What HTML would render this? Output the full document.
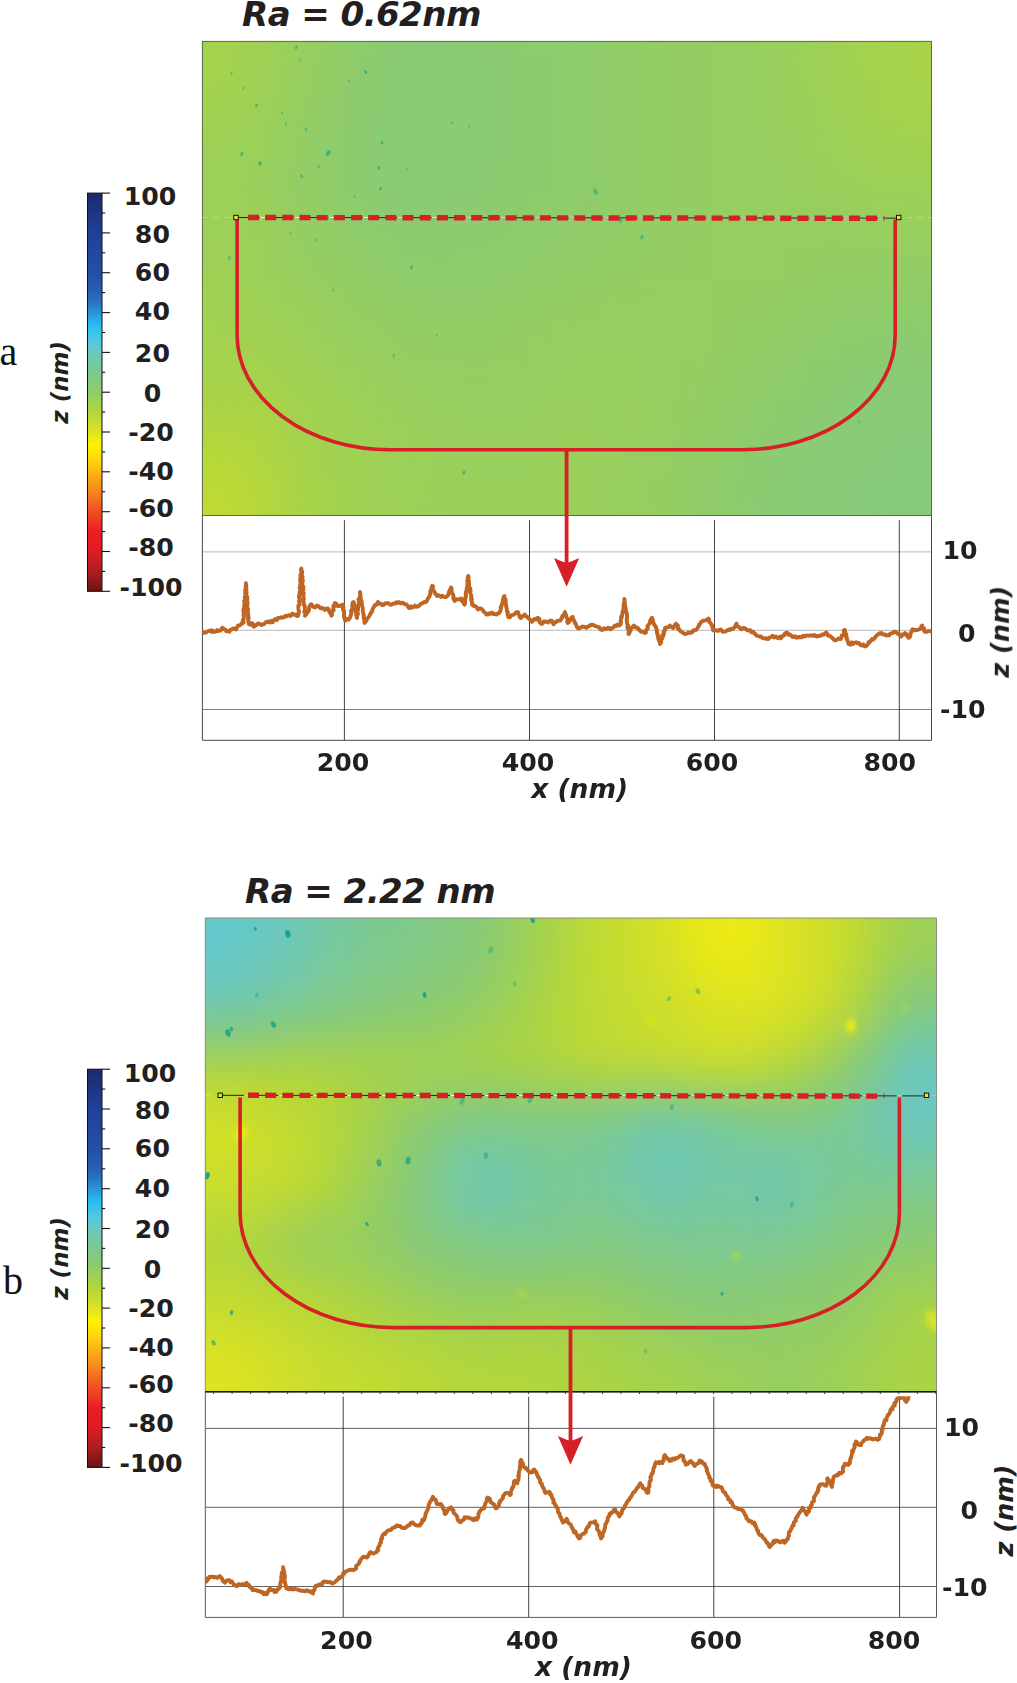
<!DOCTYPE html>
<html lang="en"><head><meta charset="utf-8"><title>AFM roughness profiles</title>
<style>html,body{margin:0;padding:0;background:#fff}svg{display:block}.t{font-family:'DejaVu Sans','Liberation Sans',sans-serif;font-weight:bold;font-size:25.2px;fill:#231f20}.ti{font-family:'DejaVu Sans','Liberation Sans',sans-serif;font-weight:bold;font-style:italic;font-size:23px;fill:#231f20}.tx{font-family:'DejaVu Sans','Liberation Sans',sans-serif;font-weight:bold;font-style:italic;font-size:26.5px;fill:#231f20}.tz{font-family:'DejaVu Sans','Liberation Sans',sans-serif;font-weight:bold;font-style:italic;font-size:25.6px;fill:#231f20}.ra{font-family:'DejaVu Sans','Liberation Sans',sans-serif;font-weight:bold;font-style:italic;font-size:34px;letter-spacing:-0.55px;fill:#231f20}.s{font-family:'Liberation Serif','DejaVu Serif',serif;font-size:40px;fill:#111}</style></head><body>
<svg width="1017" height="1683" viewBox="0 0 1017 1683">
<defs>
<linearGradient id="cb" x1="0" y1="0" x2="0" y2="1">
<stop offset="0" stop-color="#1b2a6b"/>
<stop offset="0.05" stop-color="#1e3585"/>
<stop offset="0.1" stop-color="#20409a"/>
<stop offset="0.2" stop-color="#2450a6"/>
<stop offset="0.24" stop-color="#275cb0"/>
<stop offset="0.27" stop-color="#2a70be"/>
<stop offset="0.3" stop-color="#2b93d6"/>
<stop offset="0.33" stop-color="#27bdf0"/>
<stop offset="0.37" stop-color="#52c8e4"/>
<stop offset="0.4" stop-color="#6ac8c0"/>
<stop offset="0.45" stop-color="#7cc990"/>
<stop offset="0.5" stop-color="#90cc68"/>
<stop offset="0.55" stop-color="#b2d63c"/>
<stop offset="0.6" stop-color="#dde322"/>
<stop offset="0.632" stop-color="#fff200"/>
<stop offset="0.67" stop-color="#fed70e"/>
<stop offset="0.7" stop-color="#fdb515"/>
<stop offset="0.75" stop-color="#f6861f"/>
<stop offset="0.8" stop-color="#f04e23"/>
<stop offset="0.85" stop-color="#ed1c24"/>
<stop offset="0.9" stop-color="#e01b23"/>
<stop offset="0.95" stop-color="#ad1d22"/>
<stop offset="1.0" stop-color="#6b1315"/>
</linearGradient>
<filter id="bla" filterUnits="userSpaceOnUse" x="100" y="-60" width="940" height="680"><feGaussianBlur stdDeviation="22"/></filter>
<filter id="blb" filterUnits="userSpaceOnUse" x="100" y="810" width="940" height="690"><feGaussianBlur stdDeviation="15"/></filter>
<filter id="bl2" x="-50%" y="-50%" width="200%" height="200%"><feGaussianBlur stdDeviation="0.7"/></filter>
<filter id="bl3" x="-50%" y="-50%" width="200%" height="200%"><feGaussianBlur stdDeviation="3"/></filter>
<clipPath id="ca"><rect x="202.4" y="41.4" width="729.1" height="474.1"/></clipPath>
<clipPath id="cbb"><rect x="205.3" y="918" width="731.2" height="474"/></clipPath>
<clipPath id="pa"><rect x="202.4" y="515.5" width="729.1" height="224.8"/></clipPath>
<clipPath id="pb"><rect x="205.3" y="1396.2" width="731.2" height="221.2"/></clipPath>
</defs>
<rect width="1017" height="1683" fill="#fff"/>
<g id="panel-a">
<text x="242" y="26" class="ra">Ra = 0.62nm</text>
<text x="-0.5" y="365.3" class="s">a</text>
<rect x="87.5" y="193.1" width="14.5" height="398.2" fill="url(#cb)" stroke="#111" stroke-width="1"/>
<line x1="102" y1="193.1" x2="110" y2="193.1" stroke="#111" stroke-width="1.1"/>
<line x1="102" y1="213" x2="105.2" y2="213" stroke="#111" stroke-width="1.1"/>
<line x1="102" y1="232.9" x2="110" y2="232.9" stroke="#111" stroke-width="1.1"/>
<line x1="102" y1="252.8" x2="105.2" y2="252.8" stroke="#111" stroke-width="1.1"/>
<line x1="102" y1="272.7" x2="110" y2="272.7" stroke="#111" stroke-width="1.1"/>
<line x1="102" y1="292.6" x2="105.2" y2="292.6" stroke="#111" stroke-width="1.1"/>
<line x1="102" y1="312.6" x2="110" y2="312.6" stroke="#111" stroke-width="1.1"/>
<line x1="102" y1="332.5" x2="105.2" y2="332.5" stroke="#111" stroke-width="1.1"/>
<line x1="102" y1="352.4" x2="110" y2="352.4" stroke="#111" stroke-width="1.1"/>
<line x1="102" y1="372.3" x2="105.2" y2="372.3" stroke="#111" stroke-width="1.1"/>
<line x1="102" y1="392.2" x2="110" y2="392.2" stroke="#111" stroke-width="1.1"/>
<line x1="102" y1="412.1" x2="105.2" y2="412.1" stroke="#111" stroke-width="1.1"/>
<line x1="102" y1="432" x2="110" y2="432" stroke="#111" stroke-width="1.1"/>
<line x1="102" y1="451.9" x2="105.2" y2="451.9" stroke="#111" stroke-width="1.1"/>
<line x1="102" y1="471.8" x2="110" y2="471.8" stroke="#111" stroke-width="1.1"/>
<line x1="102" y1="491.8" x2="105.2" y2="491.8" stroke="#111" stroke-width="1.1"/>
<line x1="102" y1="511.7" x2="110" y2="511.7" stroke="#111" stroke-width="1.1"/>
<line x1="102" y1="531.6" x2="105.2" y2="531.6" stroke="#111" stroke-width="1.1"/>
<line x1="102" y1="551.5" x2="110" y2="551.5" stroke="#111" stroke-width="1.1"/>
<line x1="102" y1="571.4" x2="105.2" y2="571.4" stroke="#111" stroke-width="1.1"/>
<line x1="102" y1="591.3" x2="110" y2="591.3" stroke="#111" stroke-width="1.1"/>
<text x="150" y="205.4" text-anchor="middle" class="t">100</text>
<text x="152.4" y="243" text-anchor="middle" class="t">80</text>
<text x="152.4" y="281.3" text-anchor="middle" class="t">60</text>
<text x="152.4" y="320.4" text-anchor="middle" class="t">40</text>
<text x="152.4" y="361.9" text-anchor="middle" class="t">20</text>
<text x="152.4" y="401.6" text-anchor="middle" class="t">0</text>
<text x="151" y="441.2" text-anchor="middle" class="t">-20</text>
<text x="151" y="479.5" text-anchor="middle" class="t">-40</text>
<text x="151" y="517" text-anchor="middle" class="t">-60</text>
<text x="151" y="555.8" text-anchor="middle" class="t">-80</text>
<text x="151" y="596.2" text-anchor="middle" class="t">-100</text>
<text transform="translate(67.6,382.3) rotate(-90)" text-anchor="middle" class="ti">z (nm)</text>
<g clip-path="url(#ca)"><rect x="202.4" y="41.4" width="729.1" height="474.1" fill="#9ed061"/>
<g filter="url(#bla)"><rect x="165.4" y="1.4" width="37.5" height="40.5" fill="#a4d24e"/>
<rect x="201.9" y="1.4" width="37.5" height="40.5" fill="#a4d24e"/>
<rect x="238.4" y="1.4" width="37.5" height="40.5" fill="#a1d152"/>
<rect x="274.8" y="1.4" width="37.5" height="40.5" fill="#9acf5b"/>
<rect x="311.3" y="1.4" width="37.5" height="40.5" fill="#93cd65"/>
<rect x="347.7" y="1.4" width="37.5" height="40.5" fill="#8ccb6f"/>
<rect x="384.2" y="1.4" width="37.5" height="40.5" fill="#8acb74"/>
<rect x="420.6" y="1.4" width="37.5" height="40.5" fill="#8acb74"/>
<rect x="457.1" y="1.4" width="37.5" height="40.5" fill="#8acb73"/>
<rect x="493.5" y="1.4" width="37.5" height="40.5" fill="#8ccb71"/>
<rect x="530" y="1.4" width="37.5" height="40.5" fill="#8dcc6e"/>
<rect x="566.4" y="1.4" width="37.5" height="40.5" fill="#8fcc6a"/>
<rect x="602.9" y="1.4" width="37.5" height="40.5" fill="#91cc67"/>
<rect x="639.4" y="1.4" width="37.5" height="40.5" fill="#93cd65"/>
<rect x="675.8" y="1.4" width="37.5" height="40.5" fill="#94cd63"/>
<rect x="712.3" y="1.4" width="37.5" height="40.5" fill="#96ce60"/>
<rect x="748.7" y="1.4" width="37.5" height="40.5" fill="#98ce5d"/>
<rect x="785.2" y="1.4" width="37.5" height="40.5" fill="#9cd059"/>
<rect x="821.6" y="1.4" width="37.5" height="40.5" fill="#a0d153"/>
<rect x="858.1" y="1.4" width="37.5" height="40.5" fill="#a5d24d"/>
<rect x="894.5" y="1.4" width="37.5" height="40.5" fill="#a8d349"/>
<rect x="931" y="1.4" width="37.5" height="40.5" fill="#a8d349"/>
<rect x="165.4" y="40.9" width="37.5" height="40.5" fill="#a4d24e"/>
<rect x="201.9" y="40.9" width="37.5" height="40.5" fill="#a4d24e"/>
<rect x="238.4" y="40.9" width="37.5" height="40.5" fill="#a1d152"/>
<rect x="274.8" y="40.9" width="37.5" height="40.5" fill="#9acf5b"/>
<rect x="311.3" y="40.9" width="37.5" height="40.5" fill="#93cd65"/>
<rect x="347.7" y="40.9" width="37.5" height="40.5" fill="#8ccb6f"/>
<rect x="384.2" y="40.9" width="37.5" height="40.5" fill="#8acb74"/>
<rect x="420.6" y="40.9" width="37.5" height="40.5" fill="#8acb74"/>
<rect x="457.1" y="40.9" width="37.5" height="40.5" fill="#8acb73"/>
<rect x="493.5" y="40.9" width="37.5" height="40.5" fill="#8ccb71"/>
<rect x="530" y="40.9" width="37.5" height="40.5" fill="#8dcc6e"/>
<rect x="566.4" y="40.9" width="37.5" height="40.5" fill="#8fcc6a"/>
<rect x="602.9" y="40.9" width="37.5" height="40.5" fill="#91cc67"/>
<rect x="639.4" y="40.9" width="37.5" height="40.5" fill="#93cd65"/>
<rect x="675.8" y="40.9" width="37.5" height="40.5" fill="#94cd63"/>
<rect x="712.3" y="40.9" width="37.5" height="40.5" fill="#96ce60"/>
<rect x="748.7" y="40.9" width="37.5" height="40.5" fill="#98ce5d"/>
<rect x="785.2" y="40.9" width="37.5" height="40.5" fill="#9cd059"/>
<rect x="821.6" y="40.9" width="37.5" height="40.5" fill="#a0d153"/>
<rect x="858.1" y="40.9" width="37.5" height="40.5" fill="#a5d24d"/>
<rect x="894.5" y="40.9" width="37.5" height="40.5" fill="#a8d349"/>
<rect x="931" y="40.9" width="37.5" height="40.5" fill="#a8d349"/>
<rect x="165.4" y="80.4" width="37.5" height="40.5" fill="#a3d250"/>
<rect x="201.9" y="80.4" width="37.5" height="40.5" fill="#a3d250"/>
<rect x="238.4" y="80.4" width="37.5" height="40.5" fill="#9fd054"/>
<rect x="274.8" y="80.4" width="37.5" height="40.5" fill="#98ce5d"/>
<rect x="311.3" y="80.4" width="37.5" height="40.5" fill="#91cc66"/>
<rect x="347.7" y="80.4" width="37.5" height="40.5" fill="#8ccb70"/>
<rect x="384.2" y="80.4" width="37.5" height="40.5" fill="#8acb74"/>
<rect x="420.6" y="80.4" width="37.5" height="40.5" fill="#8acb74"/>
<rect x="457.1" y="80.4" width="37.5" height="40.5" fill="#8acb73"/>
<rect x="493.5" y="80.4" width="37.5" height="40.5" fill="#8ccb71"/>
<rect x="530" y="80.4" width="37.5" height="40.5" fill="#8dcc6e"/>
<rect x="566.4" y="80.4" width="37.5" height="40.5" fill="#8fcc6a"/>
<rect x="602.9" y="80.4" width="37.5" height="40.5" fill="#91cc67"/>
<rect x="639.4" y="80.4" width="37.5" height="40.5" fill="#93cd65"/>
<rect x="675.8" y="80.4" width="37.5" height="40.5" fill="#94cd63"/>
<rect x="712.3" y="80.4" width="37.5" height="40.5" fill="#96ce60"/>
<rect x="748.7" y="80.4" width="37.5" height="40.5" fill="#98ce5d"/>
<rect x="785.2" y="80.4" width="37.5" height="40.5" fill="#9bcf59"/>
<rect x="821.6" y="80.4" width="37.5" height="40.5" fill="#9fd054"/>
<rect x="858.1" y="80.4" width="37.5" height="40.5" fill="#a4d24e"/>
<rect x="894.5" y="80.4" width="37.5" height="40.5" fill="#a6d24b"/>
<rect x="931" y="80.4" width="37.5" height="40.5" fill="#a6d24b"/>
<rect x="165.4" y="119.9" width="37.5" height="40.5" fill="#9fd054"/>
<rect x="201.9" y="119.9" width="37.5" height="40.5" fill="#9fd054"/>
<rect x="238.4" y="119.9" width="37.5" height="40.5" fill="#9cd059"/>
<rect x="274.8" y="119.9" width="37.5" height="40.5" fill="#95ce61"/>
<rect x="311.3" y="119.9" width="37.5" height="40.5" fill="#8fcc6a"/>
<rect x="347.7" y="119.9" width="37.5" height="40.5" fill="#8ccb70"/>
<rect x="384.2" y="119.9" width="37.5" height="40.5" fill="#8acb74"/>
<rect x="420.6" y="119.9" width="37.5" height="40.5" fill="#8acb74"/>
<rect x="457.1" y="119.9" width="37.5" height="40.5" fill="#8acb73"/>
<rect x="493.5" y="119.9" width="37.5" height="40.5" fill="#8ccb71"/>
<rect x="530" y="119.9" width="37.5" height="40.5" fill="#8dcc6e"/>
<rect x="566.4" y="119.9" width="37.5" height="40.5" fill="#8fcc6a"/>
<rect x="602.9" y="119.9" width="37.5" height="40.5" fill="#91cc67"/>
<rect x="639.4" y="119.9" width="37.5" height="40.5" fill="#93cd65"/>
<rect x="675.8" y="119.9" width="37.5" height="40.5" fill="#94cd63"/>
<rect x="712.3" y="119.9" width="37.5" height="40.5" fill="#96ce60"/>
<rect x="748.7" y="119.9" width="37.5" height="40.5" fill="#98ce5e"/>
<rect x="785.2" y="119.9" width="37.5" height="40.5" fill="#9acf5b"/>
<rect x="821.6" y="119.9" width="37.5" height="40.5" fill="#9dd057"/>
<rect x="858.1" y="119.9" width="37.5" height="40.5" fill="#a1d152"/>
<rect x="894.5" y="119.9" width="37.5" height="40.5" fill="#a3d250"/>
<rect x="931" y="119.9" width="37.5" height="40.5" fill="#a3d250"/>
<rect x="165.4" y="159.4" width="37.5" height="40.5" fill="#9ed056"/>
<rect x="201.9" y="159.4" width="37.5" height="40.5" fill="#9ed056"/>
<rect x="238.4" y="159.4" width="37.5" height="40.5" fill="#9acf5b"/>
<rect x="274.8" y="159.4" width="37.5" height="40.5" fill="#94cd63"/>
<rect x="311.3" y="159.4" width="37.5" height="40.5" fill="#8fcc6a"/>
<rect x="347.7" y="159.4" width="37.5" height="40.5" fill="#8ccb70"/>
<rect x="384.2" y="159.4" width="37.5" height="40.5" fill="#8acb73"/>
<rect x="420.6" y="159.4" width="37.5" height="40.5" fill="#8acb73"/>
<rect x="457.1" y="159.4" width="37.5" height="40.5" fill="#8bcb72"/>
<rect x="493.5" y="159.4" width="37.5" height="40.5" fill="#8ccb70"/>
<rect x="530" y="159.4" width="37.5" height="40.5" fill="#8dcc6d"/>
<rect x="566.4" y="159.4" width="37.5" height="40.5" fill="#8fcc6a"/>
<rect x="602.9" y="159.4" width="37.5" height="40.5" fill="#91cc67"/>
<rect x="639.4" y="159.4" width="37.5" height="40.5" fill="#93cd65"/>
<rect x="675.8" y="159.4" width="37.5" height="40.5" fill="#94cd63"/>
<rect x="712.3" y="159.4" width="37.5" height="40.5" fill="#96ce60"/>
<rect x="748.7" y="159.4" width="37.5" height="40.5" fill="#97ce5e"/>
<rect x="785.2" y="159.4" width="37.5" height="40.5" fill="#99cf5d"/>
<rect x="821.6" y="159.4" width="37.5" height="40.5" fill="#9bcf5a"/>
<rect x="858.1" y="159.4" width="37.5" height="40.5" fill="#9dd057"/>
<rect x="894.5" y="159.4" width="37.5" height="40.5" fill="#9ed055"/>
<rect x="931" y="159.4" width="37.5" height="40.5" fill="#9ed055"/>
<rect x="165.4" y="198.9" width="37.5" height="40.5" fill="#9ed056"/>
<rect x="201.9" y="198.9" width="37.5" height="40.5" fill="#9ed056"/>
<rect x="238.4" y="198.9" width="37.5" height="40.5" fill="#9bcf5a"/>
<rect x="274.8" y="198.9" width="37.5" height="40.5" fill="#95ce61"/>
<rect x="311.3" y="198.9" width="37.5" height="40.5" fill="#90cc68"/>
<rect x="347.7" y="198.9" width="37.5" height="40.5" fill="#8dcc6e"/>
<rect x="384.2" y="198.9" width="37.5" height="40.5" fill="#8ccb71"/>
<rect x="420.6" y="198.9" width="37.5" height="40.5" fill="#8ccb71"/>
<rect x="457.1" y="198.9" width="37.5" height="40.5" fill="#8ccb70"/>
<rect x="493.5" y="198.9" width="37.5" height="40.5" fill="#8dcc6e"/>
<rect x="530" y="198.9" width="37.5" height="40.5" fill="#8ecc6c"/>
<rect x="566.4" y="198.9" width="37.5" height="40.5" fill="#8fcc69"/>
<rect x="602.9" y="198.9" width="37.5" height="40.5" fill="#91cc67"/>
<rect x="639.4" y="198.9" width="37.5" height="40.5" fill="#93cd65"/>
<rect x="675.8" y="198.9" width="37.5" height="40.5" fill="#94cd63"/>
<rect x="712.3" y="198.9" width="37.5" height="40.5" fill="#96ce60"/>
<rect x="748.7" y="198.9" width="37.5" height="40.5" fill="#97ce5f"/>
<rect x="785.2" y="198.9" width="37.5" height="40.5" fill="#97ce5e"/>
<rect x="821.6" y="198.9" width="37.5" height="40.5" fill="#98ce5e"/>
<rect x="858.1" y="198.9" width="37.5" height="40.5" fill="#99cf5c"/>
<rect x="894.5" y="198.9" width="37.5" height="40.5" fill="#99cf5c"/>
<rect x="931" y="198.9" width="37.5" height="40.5" fill="#99cf5c"/>
<rect x="165.4" y="238.4" width="37.5" height="40.5" fill="#9ed055"/>
<rect x="201.9" y="238.4" width="37.5" height="40.5" fill="#9ed055"/>
<rect x="238.4" y="238.4" width="37.5" height="40.5" fill="#9cd058"/>
<rect x="274.8" y="238.4" width="37.5" height="40.5" fill="#97ce5e"/>
<rect x="311.3" y="238.4" width="37.5" height="40.5" fill="#93cd64"/>
<rect x="347.7" y="238.4" width="37.5" height="40.5" fill="#8fcc6a"/>
<rect x="384.2" y="238.4" width="37.5" height="40.5" fill="#8dcc6d"/>
<rect x="420.6" y="238.4" width="37.5" height="40.5" fill="#8dcc6e"/>
<rect x="457.1" y="238.4" width="37.5" height="40.5" fill="#8ecc6d"/>
<rect x="493.5" y="238.4" width="37.5" height="40.5" fill="#8ecc6b"/>
<rect x="530" y="238.4" width="37.5" height="40.5" fill="#90cc69"/>
<rect x="566.4" y="238.4" width="37.5" height="40.5" fill="#91cc67"/>
<rect x="602.9" y="238.4" width="37.5" height="40.5" fill="#92cd65"/>
<rect x="639.4" y="238.4" width="37.5" height="40.5" fill="#94cd63"/>
<rect x="675.8" y="238.4" width="37.5" height="40.5" fill="#95cd62"/>
<rect x="712.3" y="238.4" width="37.5" height="40.5" fill="#96ce61"/>
<rect x="748.7" y="238.4" width="37.5" height="40.5" fill="#96ce61"/>
<rect x="785.2" y="238.4" width="37.5" height="40.5" fill="#95ce61"/>
<rect x="821.6" y="238.4" width="37.5" height="40.5" fill="#95cd62"/>
<rect x="858.1" y="238.4" width="37.5" height="40.5" fill="#94cd62"/>
<rect x="894.5" y="238.4" width="37.5" height="40.5" fill="#94cd63"/>
<rect x="931" y="238.4" width="37.5" height="40.5" fill="#94cd63"/>
<rect x="165.4" y="277.9" width="37.5" height="40.5" fill="#a0d153"/>
<rect x="201.9" y="277.9" width="37.5" height="40.5" fill="#a0d153"/>
<rect x="238.4" y="277.9" width="37.5" height="40.5" fill="#9ed056"/>
<rect x="274.8" y="277.9" width="37.5" height="40.5" fill="#9acf5b"/>
<rect x="311.3" y="277.9" width="37.5" height="40.5" fill="#97ce5f"/>
<rect x="347.7" y="277.9" width="37.5" height="40.5" fill="#93cd64"/>
<rect x="384.2" y="277.9" width="37.5" height="40.5" fill="#90cc68"/>
<rect x="420.6" y="277.9" width="37.5" height="40.5" fill="#8fcc69"/>
<rect x="457.1" y="277.9" width="37.5" height="40.5" fill="#90cc69"/>
<rect x="493.5" y="277.9" width="37.5" height="40.5" fill="#91cc67"/>
<rect x="530" y="277.9" width="37.5" height="40.5" fill="#93cd65"/>
<rect x="566.4" y="277.9" width="37.5" height="40.5" fill="#94cd63"/>
<rect x="602.9" y="277.9" width="37.5" height="40.5" fill="#95ce61"/>
<rect x="639.4" y="277.9" width="37.5" height="40.5" fill="#96ce61"/>
<rect x="675.8" y="277.9" width="37.5" height="40.5" fill="#96ce61"/>
<rect x="712.3" y="277.9" width="37.5" height="40.5" fill="#95cd62"/>
<rect x="748.7" y="277.9" width="37.5" height="40.5" fill="#94cd63"/>
<rect x="785.2" y="277.9" width="37.5" height="40.5" fill="#92cd65"/>
<rect x="821.6" y="277.9" width="37.5" height="40.5" fill="#91cc67"/>
<rect x="858.1" y="277.9" width="37.5" height="40.5" fill="#90cc68"/>
<rect x="894.5" y="277.9" width="37.5" height="40.5" fill="#90cc69"/>
<rect x="931" y="277.9" width="37.5" height="40.5" fill="#90cc69"/>
<rect x="165.4" y="317.5" width="37.5" height="40.5" fill="#a3d250"/>
<rect x="201.9" y="317.5" width="37.5" height="40.5" fill="#a3d250"/>
<rect x="238.4" y="317.5" width="37.5" height="40.5" fill="#a1d152"/>
<rect x="274.8" y="317.5" width="37.5" height="40.5" fill="#9ed056"/>
<rect x="311.3" y="317.5" width="37.5" height="40.5" fill="#9acf5b"/>
<rect x="347.7" y="317.5" width="37.5" height="40.5" fill="#97ce5f"/>
<rect x="384.2" y="317.5" width="37.5" height="40.5" fill="#94cd63"/>
<rect x="420.6" y="317.5" width="37.5" height="40.5" fill="#93cd65"/>
<rect x="457.1" y="317.5" width="37.5" height="40.5" fill="#92cd65"/>
<rect x="493.5" y="317.5" width="37.5" height="40.5" fill="#94cd63"/>
<rect x="530" y="317.5" width="37.5" height="40.5" fill="#95ce61"/>
<rect x="566.4" y="317.5" width="37.5" height="40.5" fill="#97ce5f"/>
<rect x="602.9" y="317.5" width="37.5" height="40.5" fill="#97ce5e"/>
<rect x="639.4" y="317.5" width="37.5" height="40.5" fill="#97ce5f"/>
<rect x="675.8" y="317.5" width="37.5" height="40.5" fill="#96ce61"/>
<rect x="712.3" y="317.5" width="37.5" height="40.5" fill="#94cd63"/>
<rect x="748.7" y="317.5" width="37.5" height="40.5" fill="#91cc66"/>
<rect x="785.2" y="317.5" width="37.5" height="40.5" fill="#90cc69"/>
<rect x="821.6" y="317.5" width="37.5" height="40.5" fill="#8ecc6b"/>
<rect x="858.1" y="317.5" width="37.5" height="40.5" fill="#8dcc6e"/>
<rect x="894.5" y="317.5" width="37.5" height="40.5" fill="#8ccb6f"/>
<rect x="931" y="317.5" width="37.5" height="40.5" fill="#8ccb6f"/>
<rect x="165.4" y="357" width="37.5" height="40.5" fill="#a6d24b"/>
<rect x="201.9" y="357" width="37.5" height="40.5" fill="#a6d24b"/>
<rect x="238.4" y="357" width="37.5" height="40.5" fill="#a4d24e"/>
<rect x="274.8" y="357" width="37.5" height="40.5" fill="#a1d152"/>
<rect x="311.3" y="357" width="37.5" height="40.5" fill="#9ed056"/>
<rect x="347.7" y="357" width="37.5" height="40.5" fill="#9acf5b"/>
<rect x="384.2" y="357" width="37.5" height="40.5" fill="#98ce5e"/>
<rect x="420.6" y="357" width="37.5" height="40.5" fill="#96ce60"/>
<rect x="457.1" y="357" width="37.5" height="40.5" fill="#95ce61"/>
<rect x="493.5" y="357" width="37.5" height="40.5" fill="#96ce61"/>
<rect x="530" y="357" width="37.5" height="40.5" fill="#97ce5f"/>
<rect x="566.4" y="357" width="37.5" height="40.5" fill="#98ce5d"/>
<rect x="602.9" y="357" width="37.5" height="40.5" fill="#99cf5d"/>
<rect x="639.4" y="357" width="37.5" height="40.5" fill="#97ce5e"/>
<rect x="675.8" y="357" width="37.5" height="40.5" fill="#95ce61"/>
<rect x="712.3" y="357" width="37.5" height="40.5" fill="#92cd65"/>
<rect x="748.7" y="357" width="37.5" height="40.5" fill="#90cc69"/>
<rect x="785.2" y="357" width="37.5" height="40.5" fill="#8ecc6c"/>
<rect x="821.6" y="357" width="37.5" height="40.5" fill="#8ccb70"/>
<rect x="858.1" y="357" width="37.5" height="40.5" fill="#8acb73"/>
<rect x="894.5" y="357" width="37.5" height="40.5" fill="#8acb75"/>
<rect x="931" y="357" width="37.5" height="40.5" fill="#8acb75"/>
<rect x="165.4" y="396.5" width="37.5" height="40.5" fill="#add443"/>
<rect x="201.9" y="396.5" width="37.5" height="40.5" fill="#add443"/>
<rect x="238.4" y="396.5" width="37.5" height="40.5" fill="#aad446"/>
<rect x="274.8" y="396.5" width="37.5" height="40.5" fill="#a5d24d"/>
<rect x="311.3" y="396.5" width="37.5" height="40.5" fill="#a0d153"/>
<rect x="347.7" y="396.5" width="37.5" height="40.5" fill="#9dd057"/>
<rect x="384.2" y="396.5" width="37.5" height="40.5" fill="#9acf5b"/>
<rect x="420.6" y="396.5" width="37.5" height="40.5" fill="#98ce5d"/>
<rect x="457.1" y="396.5" width="37.5" height="40.5" fill="#98ce5e"/>
<rect x="493.5" y="396.5" width="37.5" height="40.5" fill="#98ce5e"/>
<rect x="530" y="396.5" width="37.5" height="40.5" fill="#98ce5d"/>
<rect x="566.4" y="396.5" width="37.5" height="40.5" fill="#9acf5c"/>
<rect x="602.9" y="396.5" width="37.5" height="40.5" fill="#99cf5c"/>
<rect x="639.4" y="396.5" width="37.5" height="40.5" fill="#97ce5f"/>
<rect x="675.8" y="396.5" width="37.5" height="40.5" fill="#94cd63"/>
<rect x="712.3" y="396.5" width="37.5" height="40.5" fill="#90cc68"/>
<rect x="748.7" y="396.5" width="37.5" height="40.5" fill="#8ecc6c"/>
<rect x="785.2" y="396.5" width="37.5" height="40.5" fill="#8ccb70"/>
<rect x="821.6" y="396.5" width="37.5" height="40.5" fill="#8acb74"/>
<rect x="858.1" y="396.5" width="37.5" height="40.5" fill="#88cb77"/>
<rect x="894.5" y="396.5" width="37.5" height="40.5" fill="#88cb79"/>
<rect x="931" y="396.5" width="37.5" height="40.5" fill="#88cb79"/>
<rect x="165.4" y="436" width="37.5" height="40.5" fill="#b8d838"/>
<rect x="201.9" y="436" width="37.5" height="40.5" fill="#b8d838"/>
<rect x="238.4" y="436" width="37.5" height="40.5" fill="#b2d63c"/>
<rect x="274.8" y="436" width="37.5" height="40.5" fill="#a8d348"/>
<rect x="311.3" y="436" width="37.5" height="40.5" fill="#a2d151"/>
<rect x="347.7" y="436" width="37.5" height="40.5" fill="#9ed055"/>
<rect x="384.2" y="436" width="37.5" height="40.5" fill="#9cd059"/>
<rect x="420.6" y="436" width="37.5" height="40.5" fill="#9acf5b"/>
<rect x="457.1" y="436" width="37.5" height="40.5" fill="#99cf5c"/>
<rect x="493.5" y="436" width="37.5" height="40.5" fill="#99cf5c"/>
<rect x="530" y="436" width="37.5" height="40.5" fill="#9acf5c"/>
<rect x="566.4" y="436" width="37.5" height="40.5" fill="#9acf5b"/>
<rect x="602.9" y="436" width="37.5" height="40.5" fill="#99cf5d"/>
<rect x="639.4" y="436" width="37.5" height="40.5" fill="#96ce61"/>
<rect x="675.8" y="436" width="37.5" height="40.5" fill="#92cd66"/>
<rect x="712.3" y="436" width="37.5" height="40.5" fill="#8ecc6b"/>
<rect x="748.7" y="436" width="37.5" height="40.5" fill="#8ccb70"/>
<rect x="785.2" y="436" width="37.5" height="40.5" fill="#8acb74"/>
<rect x="821.6" y="436" width="37.5" height="40.5" fill="#88cb77"/>
<rect x="858.1" y="436" width="37.5" height="40.5" fill="#87cb7a"/>
<rect x="894.5" y="436" width="37.5" height="40.5" fill="#86cb7b"/>
<rect x="931" y="436" width="37.5" height="40.5" fill="#86cb7b"/>
<rect x="165.4" y="475.5" width="37.5" height="40.5" fill="#bfda34"/>
<rect x="201.9" y="475.5" width="37.5" height="40.5" fill="#bfda34"/>
<rect x="238.4" y="475.5" width="37.5" height="40.5" fill="#b7d839"/>
<rect x="274.8" y="475.5" width="37.5" height="40.5" fill="#aad446"/>
<rect x="311.3" y="475.5" width="37.5" height="40.5" fill="#a3d250"/>
<rect x="347.7" y="475.5" width="37.5" height="40.5" fill="#9fd054"/>
<rect x="384.2" y="475.5" width="37.5" height="40.5" fill="#9dd057"/>
<rect x="420.6" y="475.5" width="37.5" height="40.5" fill="#9bcf5a"/>
<rect x="457.1" y="475.5" width="37.5" height="40.5" fill="#9acf5b"/>
<rect x="493.5" y="475.5" width="37.5" height="40.5" fill="#9acf5b"/>
<rect x="530" y="475.5" width="37.5" height="40.5" fill="#9acf5b"/>
<rect x="566.4" y="475.5" width="37.5" height="40.5" fill="#9acf5b"/>
<rect x="602.9" y="475.5" width="37.5" height="40.5" fill="#98ce5d"/>
<rect x="639.4" y="475.5" width="37.5" height="40.5" fill="#95ce61"/>
<rect x="675.8" y="475.5" width="37.5" height="40.5" fill="#91cc67"/>
<rect x="712.3" y="475.5" width="37.5" height="40.5" fill="#8ecc6d"/>
<rect x="748.7" y="475.5" width="37.5" height="40.5" fill="#8bcb72"/>
<rect x="785.2" y="475.5" width="37.5" height="40.5" fill="#89cb76"/>
<rect x="821.6" y="475.5" width="37.5" height="40.5" fill="#88cb79"/>
<rect x="858.1" y="475.5" width="37.5" height="40.5" fill="#86cb7b"/>
<rect x="894.5" y="475.5" width="37.5" height="40.5" fill="#86ca7c"/>
<rect x="931" y="475.5" width="37.5" height="40.5" fill="#86ca7c"/>
<rect x="165.4" y="515" width="37.5" height="40.5" fill="#bfda34"/>
<rect x="201.9" y="515" width="37.5" height="40.5" fill="#bfda34"/>
<rect x="238.4" y="515" width="37.5" height="40.5" fill="#b7d839"/>
<rect x="274.8" y="515" width="37.5" height="40.5" fill="#aad446"/>
<rect x="311.3" y="515" width="37.5" height="40.5" fill="#a3d250"/>
<rect x="347.7" y="515" width="37.5" height="40.5" fill="#9fd054"/>
<rect x="384.2" y="515" width="37.5" height="40.5" fill="#9dd057"/>
<rect x="420.6" y="515" width="37.5" height="40.5" fill="#9bcf5a"/>
<rect x="457.1" y="515" width="37.5" height="40.5" fill="#9acf5b"/>
<rect x="493.5" y="515" width="37.5" height="40.5" fill="#9acf5b"/>
<rect x="530" y="515" width="37.5" height="40.5" fill="#9acf5b"/>
<rect x="566.4" y="515" width="37.5" height="40.5" fill="#9acf5b"/>
<rect x="602.9" y="515" width="37.5" height="40.5" fill="#98ce5d"/>
<rect x="639.4" y="515" width="37.5" height="40.5" fill="#95ce61"/>
<rect x="675.8" y="515" width="37.5" height="40.5" fill="#91cc67"/>
<rect x="712.3" y="515" width="37.5" height="40.5" fill="#8ecc6d"/>
<rect x="748.7" y="515" width="37.5" height="40.5" fill="#8bcb72"/>
<rect x="785.2" y="515" width="37.5" height="40.5" fill="#89cb76"/>
<rect x="821.6" y="515" width="37.5" height="40.5" fill="#88cb79"/>
<rect x="858.1" y="515" width="37.5" height="40.5" fill="#86cb7b"/>
<rect x="894.5" y="515" width="37.5" height="40.5" fill="#86ca7c"/>
<rect x="931" y="515" width="37.5" height="40.5" fill="#86ca7c"/></g>
<g filter="url(#bl2)"><ellipse cx="296.4" cy="47.5" rx="1.3" ry="2" fill="#1fa88a" opacity="0.6" transform="rotate(27 296.4 47.5)"/>
<ellipse cx="365.7" cy="72" rx="1.4" ry="2.1" fill="#1fa88a" opacity="0.7" transform="rotate(-15 365.7 72)"/>
<ellipse cx="231.5" cy="73.5" rx="1.1" ry="1.7" fill="#1fa88a" opacity="0.5" transform="rotate(11 231.5 73.5)"/>
<ellipse cx="243.3" cy="88.2" rx="1" ry="1.6" fill="#1fa88a" opacity="0.5" transform="rotate(17 243.3 88.2)"/>
<ellipse cx="256.6" cy="105.3" rx="1.4" ry="2.1" fill="#1fa88a" opacity="0.6" transform="rotate(-18 256.6 105.3)"/>
<ellipse cx="282.2" cy="112.7" rx="1.1" ry="1.7" fill="#1fa88a" opacity="0.5" transform="rotate(3 282.2 112.7)"/>
<ellipse cx="286" cy="123.6" rx="1.1" ry="1.7" fill="#1fa88a" opacity="0.5" transform="rotate(2 286 123.6)"/>
<ellipse cx="305.8" cy="129.5" rx="1.4" ry="2.2" fill="#1fa88a" opacity="0.5" transform="rotate(-21 305.8 129.5)"/>
<ellipse cx="349" cy="80.8" rx="1" ry="1.6" fill="#1fa88a" opacity="0.5" transform="rotate(15 349 80.8)"/>
<ellipse cx="382" cy="142.8" rx="1.3" ry="2" fill="#1fa88a" opacity="0.7" transform="rotate(12 382 142.8)"/>
<ellipse cx="328.3" cy="153.1" rx="2" ry="3.1" fill="#1fa88a" opacity="0.7" transform="rotate(27 328.3 153.1)"/>
<ellipse cx="241.8" cy="154" rx="1.4" ry="2.2" fill="#1fa88a" opacity="0.7" transform="rotate(24 241.8 154)"/>
<ellipse cx="260.1" cy="163.4" rx="1.5" ry="2.3" fill="#1fa88a" opacity="0.8" transform="rotate(0 260.1 163.4)"/>
<ellipse cx="301.7" cy="176.1" rx="1.3" ry="2" fill="#1fa88a" opacity="0.6" transform="rotate(-30 301.7 176.1)"/>
<ellipse cx="318.5" cy="166.4" rx="1.1" ry="1.7" fill="#1fa88a" opacity="0.5" transform="rotate(-2 318.5 166.4)"/>
<ellipse cx="379" cy="167.9" rx="1.4" ry="2.2" fill="#1fa88a" opacity="0.6" transform="rotate(6 379 167.9)"/>
<ellipse cx="380.5" cy="188.5" rx="1.4" ry="2.1" fill="#1fa88a" opacity="0.6" transform="rotate(19 380.5 188.5)"/>
<ellipse cx="354.5" cy="196.5" rx="1.1" ry="1.7" fill="#1fa88a" opacity="0.5" transform="rotate(-19 354.5 196.5)"/>
<ellipse cx="229.4" cy="257.8" rx="1.3" ry="2" fill="#1fa88a" opacity="0.6" transform="rotate(9 229.4 257.8)"/>
<ellipse cx="411.5" cy="267.6" rx="1.3" ry="2" fill="#1fa88a" opacity="0.7" transform="rotate(-7 411.5 267.6)"/>
<ellipse cx="315.6" cy="240" rx="1.1" ry="1.7" fill="#1fa88a" opacity="0.4" transform="rotate(19 315.6 240)"/>
<ellipse cx="290.5" cy="232.8" rx="1.1" ry="1.7" fill="#1fa88a" opacity="0.4" transform="rotate(1 290.5 232.8)"/>
<ellipse cx="407" cy="169.3" rx="1" ry="1.6" fill="#1fa88a" opacity="0.4" transform="rotate(26 407 169.3)"/>
<ellipse cx="469" cy="126.6" rx="1" ry="1.6" fill="#1fa88a" opacity="0.4" transform="rotate(-28 469 126.6)"/>
<ellipse cx="595.5" cy="191.8" rx="2" ry="3.1" fill="#1fa88a" opacity="0.6" transform="rotate(-27 595.5 191.8)"/>
<ellipse cx="620.6" cy="220.5" rx="1.7" ry="2.6" fill="#1fa88a" opacity="0.6" transform="rotate(-5 620.6 220.5)"/>
<ellipse cx="642" cy="237" rx="1.7" ry="2.6" fill="#1fa88a" opacity="0.5" transform="rotate(15 642 237)"/>
<ellipse cx="464" cy="472.5" rx="1.5" ry="2.3" fill="#1fa88a" opacity="0.6" transform="rotate(15 464 472.5)"/>
<ellipse cx="393.7" cy="355.5" rx="1.2" ry="1.8" fill="#1fa88a" opacity="0.5" transform="rotate(12 393.7 355.5)"/>
<ellipse cx="436.8" cy="335.4" rx="1.1" ry="1.7" fill="#1fa88a" opacity="0.4" transform="rotate(13 436.8 335.4)"/>
<ellipse cx="333.4" cy="290.1" rx="1.2" ry="1.8" fill="#1fa88a" opacity="0.4" transform="rotate(-6 333.4 290.1)"/>
<ellipse cx="859" cy="421.5" rx="1.4" ry="2.1" fill="#1fa88a" opacity="0.3" transform="rotate(-13 859 421.5)"/>
<ellipse cx="300" cy="60" rx="1" ry="1.6" fill="#1fa88a" opacity="0.4" transform="rotate(-30 300 60)"/>
<ellipse cx="452" cy="123" rx="1" ry="1.6" fill="#1fa88a" opacity="0.4" transform="rotate(23 452 123)"/></g>
</g>
<rect x="202.4" y="515.5" width="729.1" height="224.8" fill="#fff"/>
<line x1="202.4" y1="551.9" x2="931.5" y2="551.9" stroke="#c6c6c6" stroke-width="1.2"/>
<line x1="202.4" y1="630.4" x2="931.5" y2="630.4" stroke="#c6c6c6" stroke-width="1.2"/>
<line x1="202.4" y1="709.5" x2="931.5" y2="709.5" stroke="#747474" stroke-width="0.9"/>
<line x1="344.4" y1="520.2" x2="344.4" y2="740.3" stroke="#2e2e2e" stroke-width="0.9"/>
<line x1="529.5" y1="520.2" x2="529.5" y2="740.3" stroke="#2e2e2e" stroke-width="0.9"/>
<line x1="714.5" y1="520.2" x2="714.5" y2="740.3" stroke="#2e2e2e" stroke-width="0.9"/>
<line x1="899.3" y1="520.2" x2="899.3" y2="740.3" stroke="#2e2e2e" stroke-width="0.9"/>
<path d="M202.4 515.5 L202.4 740.3 L931.5 740.3 L931.5 515.5" fill="none" stroke="#4a4a4a" stroke-width="1"/>
<polyline points="202.4,631.7 203.8,632.9 206,632.5 207.6,631.3 208.7,631.1 210,630.5 211.5,631.7 212.2,630.4 214,632 215.8,631.4 217.1,630.1 218.1,631.3 219.6,630.4 220.4,630.6 222.3,627.7 223,628 223.5,629.1 225.5,629.7 226,631 227.4,631.2 229.4,631.7 230.1,630 231.7,629.6 233,628.5 234.2,628.4 236,629.5 236.7,628.1 237.9,625.7 239.2,625.5 240.9,624.8 241.9,623.1 243,623 243.7,622.5 242.8,620 243.5,619.5 243.9,617.5 243.9,616.8 243.4,615.2 244.1,614.5 243.8,612.6 243.3,610.5 244.3,609.5 243.7,608.5 244.4,607.5 244.1,605.6 244.4,605.1 244.5,602.9 244.5,600.7 244.1,600.9 245.3,599.3 244.7,597 244.9,597.6 245.3,595.2 245.5,593.2 245.2,593.5 245.4,591.1 245.2,589.9 246,587.4 245.9,587.9 246.2,586.4 246.2,584.6 245.9,583.2 246.1,584.4 245.6,586.7 246.3,586.5 246.3,588.5 246.2,589.5 246.5,591.4 246.7,592.4 246.2,593.2 246.4,595.3 247.3,597.1 247.3,598.5 246.8,599.9 247.4,599.5 246.7,600.6 247.7,602.5 247.1,604.7 247.4,604.7 247.3,607.1 247.4,607.9 248.1,609.6 247.8,611 247.6,612.1 248.1,613 247.9,615.9 248.4,615.7 248.6,618.4 248,617.9 248.3,620.8 248.4,622.1 249.1,623.1 249,624.3 250.2,624.7 252,623 253,624.3 253,625.9 254,626.8 255.2,625.9 256.5,624.9 258,623.5 258.8,623.4 261.2,625 262,624.5 263.1,624.5 264.4,623.8 266,622 267.6,622 268.4,621.2 270,622.5 271.7,620.8 272.8,622.3 273.7,620.6 275.2,619 277,620 278,618 279.9,617.9 281.2,617.3 283,617.5 283.9,617.4 285.4,615.8 286.3,616.4 288,615.5 289.1,615.2 290.4,615.9 292.4,613.6 293.3,614.5 294.6,614.5 297.1,616 298.2,615.7 298.1,613.7 298.6,613.9 299,611.4 299,610.9 298.6,610.3 298.4,608.4 298.3,605.8 299.4,604.6 299.3,604.1 299.5,602.3 299,600.8 299.7,600.2 299.9,599.5 299,597.5 299.1,595 299.1,595.6 300,594.2 299.6,592.4 300.2,590.5 300.1,588.8 299.6,587.6 300.6,587 300.7,585.4 300.1,584.9 300.8,581.8 300.7,580.7 300.2,581.2 300.2,578.4 301.3,577.5 300.4,575.6 300.7,575.6 300.6,574.7 301,573.5 301.7,570.6 301,569.8 301.4,568.5 301,570.2 301.1,570 302.3,572 301.9,573.6 301.7,574.1 302.5,577.4 302.6,576.8 301.9,579.3 302.9,580.4 302.6,582 302.2,583 302.4,583.7 302.2,585 303.4,586.7 303.1,588.5 303.5,589.2 302.9,590.4 303,592.9 303.8,593 303.2,594.8 303.6,596.3 303.3,596.2 303.4,597.7 303.9,599 303.4,601.6 303.8,603.3 304.1,604.7 303.8,605.2 304.6,605.5 304.9,607.1 304.8,610.3 305,610 304.2,611.8 305.3,612.6 305.4,613.6 305,615.7 306.3,613.4 306.5,614.2 307.5,612 308.3,611.7 308.9,610.1 309.2,607.6 309.4,606.3 310.2,606.2 310.5,604.6 311.3,604.3 313.3,606.8 313.9,606.9 315,607.5 316.4,606.4 317,605.5 317.9,606 318.7,606.1 320,608 321.4,608.3 322.6,608 323.6,608.7 325,610 326.1,608.7 328,608.5 328.9,609.5 329,611.2 329.4,611 330.3,613.3 331,614.4 331.4,615.7 332,615 331.8,613.1 332.5,611.3 332.7,610.8 333.7,610.3 333.3,608.4 333.4,605.8 334.3,606.4 334.2,604.9 335,603 336.4,603.6 337.2,605.8 338,606 339.4,606 341.3,605.3 342.5,604.6 343.2,606.8 343.5,607.4 342.9,608 343.1,610.1 344,610.2 344.2,613.1 344,614 344,615.8 344.1,617.7 345.3,618.2 344.9,620.2 345.4,620.6 347.4,618.9 348.7,619.7 349.8,618 350.3,617.1 350.4,616.3 351.3,613.7 351.4,612.5 351,610.9 351.2,610.9 352.5,607.8 352.4,607.1 352.1,605.5 352.6,605.2 352.6,602.6 353.5,602 353.7,602.2 354.2,604.9 354.8,605.3 354.4,607.4 354.7,608.9 355,610.4 355.9,612 356.4,612.8 356.1,614.8 356.7,615.5 356.6,616.2 357,618 356.7,617.4 356.9,616 357.5,615.2 357.9,613.9 357.3,611.5 358,609.8 358.1,608.6 358.2,606.5 358.3,606.2 358.3,604.8 359,604.1 358.8,602.7 358.8,600.4 358.5,599.3 359.4,599.4 359.8,597.2 360.1,595.8 360.1,594.4 360.1,594.4 360,592 360,592.5 360.5,594.7 360.4,594.7 360.6,597 360.8,599.3 361.2,600.3 361.8,601.6 361.5,602.9 361.9,604 362.1,604.7 362.3,606.5 362.8,608.1 362.9,609.4 363,610.3 362.7,610.8 363.3,613.5 363.3,613.2 363.8,615.2 363.6,615.5 363.8,618.4 363.9,618.8 364.4,619.3 364.4,622.7 364.6,623 365.6,621.6 366.5,620.8 366.7,618.7 368.3,617.6 368.2,617.7 369.5,615.7 370.1,614.2 370.7,613.8 371,612.4 372.2,611.5 372.3,609.8 372.9,608.5 373.4,607.8 374.4,605.9 375.7,604.5 375.9,605 377.3,603.8 378,602 378.8,603.9 380.8,603.6 382,605 383.3,605.1 385,603.3 386,603.5 387.5,603 389.3,603.9 390.7,604.8 391.6,604.6 393.4,603.5 395,603.5 396.4,602.2 397.3,603 399,602 400.1,603 401.2,603.3 403,602.7 404,603.5 404.7,604.2 406.4,604.4 407.2,605.2 408.9,608 410,608 410.9,606.3 412.7,607.5 414.3,606.4 415,605.5 416.3,606.8 418,606.5 418.9,605.9 420.2,604.3 422,603.5 423.3,602.7 424.3,601.9 426,602 427.1,600.7 427.6,598.8 428.5,597.9 429,597 429.5,596.6 430.3,593.2 430.5,593.7 430.3,591.2 431,591.1 431.1,589.6 431.9,586.6 432,586 433,586.1 432.6,588.8 433,589.3 433.6,590.7 434.5,592 435.7,594.3 435.6,593.7 437,596 438.7,595.3 439.4,595.8 441,597 442.1,595.7 444.4,597.1 446,597 447.4,596 448.1,594.5 448.6,594.6 449.1,591.7 449,592.1 450.1,589.5 450.6,588.8 451,587.4 451.4,587.7 451.6,589.9 451.8,592.4 452.4,593.2 453.1,594.8 453.5,596.1 453.3,598 453.6,599.2 454.7,600.4 454.7,601 455.8,599.3 458,599.5 459.9,598.9 461,598.5 461.6,600.8 461.9,601 463.1,601.3 463.8,603.9 464.6,604.6 465.2,602.2 465,601 465.4,599.7 464.7,599.1 465.7,597.6 465.2,597.5 466.1,596.3 465.7,594 465.8,593 466.1,591.2 466.8,591.3 466.7,588 467,587.5 467.5,586.8 467.5,585.5 467.3,584.6 467.8,581.9 467.2,580.8 467.8,578.9 467.8,578.7 467.6,577.9 468.3,575.9 468.6,576.8 468.4,578.2 468.6,580.4 469,581.2 468.7,583.4 469.1,583.3 469,586.1 469.6,587.3 470.3,588.7 470.3,589.9 470.6,590.9 469.9,591.6 470.6,594 471,594.6 471.1,595.1 471.5,597.1 471,598 471.9,599.5 471.1,599.9 471.9,602.1 472.3,602.6 472,604.6 473.4,605.8 475,606 475.5,606.2 477.1,607.8 478,609.5 479,608.5 481,608.5 482.2,609.7 482.5,609.9 484,612 485.7,613.2 486.3,614.5 488,614.5 488.8,613.5 491.1,613.7 492,612.5 493.3,614.1 495,614 496.4,614.6 498.1,613.3 499,613.2 499.6,612 500.3,611.2 500.5,610 501.2,607.3 500.7,607.2 501.8,605.3 501.9,603.7 502.8,603.3 502.8,600.2 503.6,599.9 503.2,598.2 504.2,596.2 504.4,596 504.2,596.9 505.3,599.2 505.7,600 505.5,601.4 505.6,602.7 506.2,604.9 506,605.5 506.1,606 506.6,608 506.9,610.2 506.7,610.8 507.9,612.3 507.6,612.8 507.7,615.4 508.5,616.1 508.3,617 510,617.3 511.2,615.4 512,615 513.3,614.9 514.6,614.1 516,612.4 517.4,612 518.1,612.3 518.7,614.2 519,614.8 520,617.6 521,618 522.4,616.3 524.1,615.1 524.8,614.5 525.9,616.2 527.2,616.7 528,618 529.3,618.9 530.2,619.9 531.5,621.3 532,621.8 532.7,620.1 534.9,619.5 534.9,618.8 536.6,619.6 537.8,617.7 538.3,619.4 539.4,619.1 539.7,622.4 540.3,622.5 540.8,623.6 542,623.9 544.1,621.3 545,621.5 546.6,621.8 548,622.5 549.5,621 550.3,620.7 551.8,620.6 552.4,622.5 553.4,623.7 553.6,624.3 554.9,622.3 555.7,622.5 557,621 558.5,620.8 560.4,620.6 561.5,618.5 562.1,617.2 562.2,617.8 562.6,615.7 563.5,615.3 564.8,612.7 564.9,612 565.3,614.3 565.7,614.1 566.3,615.8 566.3,616.4 567.3,619.2 567.6,621.3 567.2,621.7 567.8,623 568.7,622.4 570.2,620 570.5,619.9 571.6,617.3 572.7,617 572.9,618.4 573.9,620.5 574.4,620.9 574.5,621.7 575.2,623.6 575.7,623.7 576.4,625.5 576.9,627 577.6,628 578.7,628.5 580.8,627.4 582,627 582.9,626.5 585,627.2 586.5,627.8 587.5,626.8 588.8,626.3 590.4,625 591.7,624.9 593.6,625 594.6,625.8 596.8,626.5 598,627 599.5,627.4 600.3,629.2 602,630 603.7,629.4 603.9,628.1 605.5,629.1 607,628.5 608.2,627.7 610.5,629.3 612,628 613.2,627.6 614.7,625.6 616,626 617.4,624.6 618.8,625.5 620.7,624.3 621.1,621.9 620.6,622.2 620.8,619.9 621.2,617.9 621.1,616.8 621.8,617.3 622.2,614.4 622.5,613.1 622.5,611.9 623.2,610.6 623.2,610 623.4,608.6 623.7,606.8 623.6,605.9 623.7,604.5 623.9,602.8 624.5,602 624.3,599.3 624.4,599 624.6,599.5 624.4,601.4 624.9,602.3 624.8,604.3 625.2,605.3 624.9,606.5 625.7,608.2 625.8,610.2 626.1,611.1 625.5,611.5 626.4,612.5 626.8,613.7 627,615.2 627.1,617.9 626.7,619.3 626.6,620.5 627,620.9 626.9,622.6 627.2,624 628,625.2 627.3,627.3 628.5,627.8 628,629 628.8,630 628.8,631.6 628.5,633.7 628.8,634 629.4,633 629.8,631.5 630.5,630.8 631.2,628.1 632.1,627.1 633.3,626.4 634,625.5 635.2,627.6 637,627.5 638.5,628.8 639.3,630.2 640,630.4 641,631.8 642.2,631.8 643.6,631.6 645,633 645.9,632.7 645.9,631.3 646.5,629.5 647.9,628.5 647.4,626.5 648.3,624.9 649.4,623.9 649.8,623.1 650.2,620.5 650.9,621.2 650.9,619.3 651.9,617.7 652.4,618.6 653.2,621.4 652.9,622.5 653.8,623.6 654.1,624.6 654.5,625 656,627.1 656,628 656.7,629.2 656.6,630.6 657.3,632.5 657,633.2 657.7,634.8 658.5,636.8 657.9,637 658.2,637.6 658.5,639.3 659.6,641.7 660,642.2 660,644 660,643.8 661.2,642.4 660.7,639.8 661.8,639.2 662.6,637.4 662.4,634.9 663.3,635.8 663.8,633.7 663.6,631.4 664.5,631.7 665.1,628.6 665,628 666.3,627.4 667.4,627.4 669.3,626.6 670,625.5 671.2,626.8 672.2,627.3 673,628 673.5,627.5 674.1,626.1 675.1,624.8 676,623.6 676.9,624.9 678,625.7 677.7,628.7 678.7,628.5 679.7,630.4 680.9,631.5 682.9,632.7 683.5,633.2 685,634 686.6,633.7 688.2,632.6 690,633 691.1,632.1 692.1,632.4 693.4,630.2 694.8,630.4 695.9,630.1 697.3,628.4 698,627 699.1,625.6 699.2,624.4 700.2,623.4 701.2,622 702,621.8 703.1,620.6 705,620.5 706.4,620.2 708.4,618.6 709,619.2 709.4,622.1 710.1,622.7 710.5,623.1 711.3,624.2 712,625.4 712.5,627.5 713,629.3 713.3,630.4 714.4,630.7 715.9,630.2 718,631 719.4,629.8 721,629.5 722.3,631.4 723,631.7 724.3,631.7 725.6,631.4 727.3,630.3 729,629.5 729.8,629.9 731.2,628.7 732.5,629.1 734,628 735,626.8 736,624.5 736.6,623.6 737,625.6 738.2,626.8 739.9,627.6 740.3,628.5 741.4,629.3 743.6,627.9 745,628.5 745.9,628.9 747.1,630.2 749,630.4 750,630 750.9,631.9 751.7,632.3 752.9,631.6 753.8,632.9 755.6,634.2 756.3,635.4 757.8,636 759.2,636.5 761,636.5 762.5,638 763.5,638.3 765.3,638.6 765.9,638 767.3,639 768.1,639.1 769.3,637.8 771,637 772.6,635.8 774,637.5 776,636.6 777.7,638.1 779.7,636.8 780.9,638.3 782.1,636.2 782.8,636 784.4,635.3 784.5,634 785.8,632.9 787.2,632.7 788.4,634.8 790,634.5 791.9,635.8 792.2,636.8 794,637.2 795.1,636.3 796.8,637.8 798.5,636.9 798.8,637 801.1,637.4 801.6,637.3 803,635.8 804.7,636.5 806,635.4 807.7,635.6 809.1,635.7 810,635.5 812,635.5 813,635.8 814.4,634.9 816.3,636.5 817.7,635.8 818.9,636.2 820.9,635.6 822,634.5 823.3,634.9 825.2,633.3 826.3,632.4 827.1,633.8 828.2,635.7 830,636 830.8,636.6 832.1,638 833.1,638.5 834.2,640.2 835,640.3 836.4,640 838.4,638.5 839.1,638.9 841,639 841.2,638.6 841.7,635.5 842.4,635.2 843.5,635 844.1,632.8 843.7,630.3 844.8,630 845.3,632 845.2,633.6 845.9,634 846.3,634.1 846.1,637.4 846.6,636.7 846.9,639.4 847.2,639.5 847.6,641.4 848.4,642.3 848.5,644 850.5,644.8 851.9,642.4 852.9,644 854.6,642.7 856.4,642.3 857.2,643.3 858.9,643 860,644.5 861.2,645.5 863.3,644.4 864.4,646.3 865.7,646.4 867.2,645.1 868.4,643.5 868.5,642.2 870,642 871.2,640.1 871.9,639.1 872.8,639.8 874.2,638.7 875.5,636.6 877,635.2 878.4,634 879.7,633.3 880.1,633.8 881.6,632.9 882.7,634.3 885,634.5 885.9,635.5 887.1,635.2 889,635.4 889.9,634 891.5,633.3 892.6,633 894,631.7 895,631.7 896.9,632.8 898,634 899.6,634.7 900.2,634.6 901.3,636.6 902,634.5 903.9,634.6 905,633 906.4,634 907.1,635 907.3,636.4 908.7,637.8 909.5,637.3 910.3,636.1 910.4,634.2 910.8,632.8 911.6,631.8 912.3,630.3 912.4,629.2 914.2,630.4 916,630 918.1,629.7 919.7,629.2 920.6,628.7 921.5,626.2 922.2,625.5 922.5,627 922.7,627.9 924.2,628.6 924.1,630.9 924.7,631.7 926.8,631.8 928,631 929.9,631.1 931.5,631.7" fill="none" stroke="#bf6624" stroke-width="3.9" stroke-linejoin="round" stroke-linecap="round" clip-path="url(#pa)"/>
<rect x="202.4" y="41.4" width="729.1" height="474.1" fill="none" stroke="#5a6a4a" stroke-width="1"/>
<line x1="202.4" y1="217.5" x2="931.5" y2="217.5" stroke="#d8ecc0" stroke-width="0.8" stroke-dasharray="6 5" opacity="0.55"/>
<line x1="236" y1="217.5" x2="898.7" y2="218.1" stroke="#222" stroke-width="1"/>
<line x1="236" y1="217.5" x2="898.7" y2="218.1" stroke="#fff" stroke-width="1" stroke-dasharray="5.5 28.84" stroke-dashoffset="-24"/>
<line x1="248" y1="217.5" x2="877.8" y2="218.3" stroke="#d71f27" stroke-width="5.4" stroke-dasharray="11 6.17"/>
<line x1="883.3" y1="218.3" x2="884.3" y2="218.3" stroke="#d71f27" stroke-width="5"/>
<path d="M237.1 219.5 L237.1 335.3 A153 114.5 0 0 0 390.1 449.8 L742.2 449.8 A153 114.5 0 0 0 895.2 335.3 L895.2 219.5" fill="none" stroke="#d71f27" stroke-width="3.6"/>
<line x1="566.6" y1="449.8" x2="566.6" y2="564.7" stroke="#d71f27" stroke-width="3.8"/>
<path d="M566.6 586.7 L554 558 Q562.6 562.2 566.6 562.7 Q570.6 562.2 579.2 558 Z" fill="#d71f27"/>
<rect x="233.8" y="215.3" width="4.4" height="4.4" fill="#f5e616" stroke="#111" stroke-width="1"/>
<rect x="896.5" y="215.3" width="4.4" height="4.4" fill="#f5e616" stroke="#111" stroke-width="1"/>
<text x="343" y="771.3" text-anchor="middle" class="t">200</text>
<text x="528" y="771.3" text-anchor="middle" class="t">400</text>
<text x="712" y="771.3" text-anchor="middle" class="t">600</text>
<text x="889.7" y="771.3" text-anchor="middle" class="t">800</text>
<text x="579.7" y="798" text-anchor="middle" class="tx">x (nm)</text>
<text x="977.5" y="558.7" text-anchor="end" class="t">10</text>
<text x="975.5" y="641.5" text-anchor="end" class="t">0</text>
<text x="985.5" y="717.8" text-anchor="end" class="t">-10</text>
<text transform="translate(1008.8,631.7) rotate(-90)" text-anchor="middle" class="tz">z (nm)</text>
</g>
<g id="panel-b">
<text x="245" y="902.7" class="ra">Ra = 2.22 nm</text>
<text x="3" y="1293.5" class="s">b</text>
<rect x="87.5" y="1069.2" width="14.5" height="398.2" fill="url(#cb)" stroke="#111" stroke-width="1"/>
<line x1="102" y1="1069.2" x2="110" y2="1069.2" stroke="#111" stroke-width="1.1"/>
<line x1="102" y1="1089.1" x2="105.2" y2="1089.1" stroke="#111" stroke-width="1.1"/>
<line x1="102" y1="1109" x2="110" y2="1109" stroke="#111" stroke-width="1.1"/>
<line x1="102" y1="1128.9" x2="105.2" y2="1128.9" stroke="#111" stroke-width="1.1"/>
<line x1="102" y1="1148.8" x2="110" y2="1148.8" stroke="#111" stroke-width="1.1"/>
<line x1="102" y1="1168.8" x2="105.2" y2="1168.8" stroke="#111" stroke-width="1.1"/>
<line x1="102" y1="1188.7" x2="110" y2="1188.7" stroke="#111" stroke-width="1.1"/>
<line x1="102" y1="1208.6" x2="105.2" y2="1208.6" stroke="#111" stroke-width="1.1"/>
<line x1="102" y1="1228.5" x2="110" y2="1228.5" stroke="#111" stroke-width="1.1"/>
<line x1="102" y1="1248.4" x2="105.2" y2="1248.4" stroke="#111" stroke-width="1.1"/>
<line x1="102" y1="1268.3" x2="110" y2="1268.3" stroke="#111" stroke-width="1.1"/>
<line x1="102" y1="1288.2" x2="105.2" y2="1288.2" stroke="#111" stroke-width="1.1"/>
<line x1="102" y1="1308.1" x2="110" y2="1308.1" stroke="#111" stroke-width="1.1"/>
<line x1="102" y1="1328" x2="105.2" y2="1328" stroke="#111" stroke-width="1.1"/>
<line x1="102" y1="1347.9" x2="110" y2="1347.9" stroke="#111" stroke-width="1.1"/>
<line x1="102" y1="1367.8" x2="105.2" y2="1367.8" stroke="#111" stroke-width="1.1"/>
<line x1="102" y1="1387.8" x2="110" y2="1387.8" stroke="#111" stroke-width="1.1"/>
<line x1="102" y1="1407.7" x2="105.2" y2="1407.7" stroke="#111" stroke-width="1.1"/>
<line x1="102" y1="1427.6" x2="110" y2="1427.6" stroke="#111" stroke-width="1.1"/>
<line x1="102" y1="1447.5" x2="105.2" y2="1447.5" stroke="#111" stroke-width="1.1"/>
<line x1="102" y1="1467.4" x2="110" y2="1467.4" stroke="#111" stroke-width="1.1"/>
<text x="150" y="1081.5" text-anchor="middle" class="t">100</text>
<text x="152.4" y="1119.1" text-anchor="middle" class="t">80</text>
<text x="152.4" y="1157.4" text-anchor="middle" class="t">60</text>
<text x="152.4" y="1196.5" text-anchor="middle" class="t">40</text>
<text x="152.4" y="1238" text-anchor="middle" class="t">20</text>
<text x="152.4" y="1277.7" text-anchor="middle" class="t">0</text>
<text x="151" y="1317.3" text-anchor="middle" class="t">-20</text>
<text x="151" y="1355.6" text-anchor="middle" class="t">-40</text>
<text x="151" y="1393.1" text-anchor="middle" class="t">-60</text>
<text x="151" y="1431.9" text-anchor="middle" class="t">-80</text>
<text x="151" y="1472.3" text-anchor="middle" class="t">-100</text>
<text transform="translate(67.6,1258.4) rotate(-90)" text-anchor="middle" class="ti">z (nm)</text>
<g clip-path="url(#cbb)"><rect x="205.3" y="918" width="731.2" height="474" fill="#a6d250"/>
<g filter="url(#blb)"><rect x="174.3" y="887.9" width="31.5" height="30.6" fill="#62c8cc"/>
<rect x="204.8" y="887.9" width="31.5" height="30.6" fill="#62c8cc"/>
<rect x="235.3" y="887.9" width="31.5" height="30.6" fill="#66c8c6"/>
<rect x="265.7" y="887.9" width="31.5" height="30.6" fill="#6cc8bb"/>
<rect x="296.2" y="887.9" width="31.5" height="30.6" fill="#71c8ae"/>
<rect x="326.7" y="887.9" width="31.5" height="30.6" fill="#77c99d"/>
<rect x="357.1" y="887.9" width="31.5" height="30.6" fill="#7cc991"/>
<rect x="387.6" y="887.9" width="31.5" height="30.6" fill="#7ec98b"/>
<rect x="418.1" y="887.9" width="31.5" height="30.6" fill="#82ca84"/>
<rect x="448.5" y="887.9" width="31.5" height="30.6" fill="#86ca7c"/>
<rect x="479" y="887.9" width="31.5" height="30.6" fill="#8dcc6e"/>
<rect x="509.5" y="887.9" width="31.5" height="30.6" fill="#9cd059"/>
<rect x="539.9" y="887.9" width="31.5" height="30.6" fill="#abd445"/>
<rect x="570.4" y="887.9" width="31.5" height="30.6" fill="#bbd937"/>
<rect x="600.9" y="887.9" width="31.5" height="30.6" fill="#c7dc2f"/>
<rect x="631.3" y="887.9" width="31.5" height="30.6" fill="#d0df2a"/>
<rect x="661.8" y="887.9" width="31.5" height="30.6" fill="#dbe223"/>
<rect x="692.3" y="887.9" width="31.5" height="30.6" fill="#eae915"/>
<rect x="722.7" y="887.9" width="31.5" height="30.6" fill="#edea12"/>
<rect x="753.2" y="887.9" width="31.5" height="30.6" fill="#e2e51d"/>
<rect x="783.7" y="887.9" width="31.5" height="30.6" fill="#d8e125"/>
<rect x="814.1" y="887.9" width="31.5" height="30.6" fill="#cdde2c"/>
<rect x="844.6" y="887.9" width="31.5" height="30.6" fill="#bcd936"/>
<rect x="875.1" y="887.9" width="31.5" height="30.6" fill="#a7d34a"/>
<rect x="905.5" y="887.9" width="31.5" height="30.6" fill="#9ed056"/>
<rect x="936" y="887.9" width="31.5" height="30.6" fill="#9ed056"/>
<rect x="174.3" y="917.5" width="31.5" height="30.6" fill="#62c8cc"/>
<rect x="204.8" y="917.5" width="31.5" height="30.6" fill="#62c8cc"/>
<rect x="235.3" y="917.5" width="31.5" height="30.6" fill="#66c8c6"/>
<rect x="265.7" y="917.5" width="31.5" height="30.6" fill="#6cc8bb"/>
<rect x="296.2" y="917.5" width="31.5" height="30.6" fill="#71c8ae"/>
<rect x="326.7" y="917.5" width="31.5" height="30.6" fill="#77c99d"/>
<rect x="357.1" y="917.5" width="31.5" height="30.6" fill="#7cc991"/>
<rect x="387.6" y="917.5" width="31.5" height="30.6" fill="#7ec98b"/>
<rect x="418.1" y="917.5" width="31.5" height="30.6" fill="#82ca84"/>
<rect x="448.5" y="917.5" width="31.5" height="30.6" fill="#86ca7c"/>
<rect x="479" y="917.5" width="31.5" height="30.6" fill="#8dcc6e"/>
<rect x="509.5" y="917.5" width="31.5" height="30.6" fill="#9cd059"/>
<rect x="539.9" y="917.5" width="31.5" height="30.6" fill="#abd445"/>
<rect x="570.4" y="917.5" width="31.5" height="30.6" fill="#bbd937"/>
<rect x="600.9" y="917.5" width="31.5" height="30.6" fill="#c7dc2f"/>
<rect x="631.3" y="917.5" width="31.5" height="30.6" fill="#d0df2a"/>
<rect x="661.8" y="917.5" width="31.5" height="30.6" fill="#dbe223"/>
<rect x="692.3" y="917.5" width="31.5" height="30.6" fill="#eae915"/>
<rect x="722.7" y="917.5" width="31.5" height="30.6" fill="#edea12"/>
<rect x="753.2" y="917.5" width="31.5" height="30.6" fill="#e2e51d"/>
<rect x="783.7" y="917.5" width="31.5" height="30.6" fill="#d8e125"/>
<rect x="814.1" y="917.5" width="31.5" height="30.6" fill="#cdde2c"/>
<rect x="844.6" y="917.5" width="31.5" height="30.6" fill="#bcd936"/>
<rect x="875.1" y="917.5" width="31.5" height="30.6" fill="#a7d34a"/>
<rect x="905.5" y="917.5" width="31.5" height="30.6" fill="#9ed056"/>
<rect x="936" y="917.5" width="31.5" height="30.6" fill="#9ed056"/>
<rect x="174.3" y="947.1" width="31.5" height="30.6" fill="#67c8c5"/>
<rect x="204.8" y="947.1" width="31.5" height="30.6" fill="#67c8c5"/>
<rect x="235.3" y="947.1" width="31.5" height="30.6" fill="#6bc8be"/>
<rect x="265.7" y="947.1" width="31.5" height="30.6" fill="#6fc8b3"/>
<rect x="296.2" y="947.1" width="31.5" height="30.6" fill="#74c9a6"/>
<rect x="326.7" y="947.1" width="31.5" height="30.6" fill="#7ac997"/>
<rect x="357.1" y="947.1" width="31.5" height="30.6" fill="#7ec98c"/>
<rect x="387.6" y="947.1" width="31.5" height="30.6" fill="#81ca86"/>
<rect x="418.1" y="947.1" width="31.5" height="30.6" fill="#84ca7f"/>
<rect x="448.5" y="947.1" width="31.5" height="30.6" fill="#88cb77"/>
<rect x="479" y="947.1" width="31.5" height="30.6" fill="#8fcc6a"/>
<rect x="509.5" y="947.1" width="31.5" height="30.6" fill="#9ed056"/>
<rect x="539.9" y="947.1" width="31.5" height="30.6" fill="#acd443"/>
<rect x="570.4" y="947.1" width="31.5" height="30.6" fill="#bbd936"/>
<rect x="600.9" y="947.1" width="31.5" height="30.6" fill="#c7dc2f"/>
<rect x="631.3" y="947.1" width="31.5" height="30.6" fill="#cedf2b"/>
<rect x="661.8" y="947.1" width="31.5" height="30.6" fill="#d8e225"/>
<rect x="692.3" y="947.1" width="31.5" height="30.6" fill="#e6e719"/>
<rect x="722.7" y="947.1" width="31.5" height="30.6" fill="#e9e816"/>
<rect x="753.2" y="947.1" width="31.5" height="30.6" fill="#e1e51e"/>
<rect x="783.7" y="947.1" width="31.5" height="30.6" fill="#d7e125"/>
<rect x="814.1" y="947.1" width="31.5" height="30.6" fill="#ccde2c"/>
<rect x="844.6" y="947.1" width="31.5" height="30.6" fill="#b8d838"/>
<rect x="875.1" y="947.1" width="31.5" height="30.6" fill="#a0d153"/>
<rect x="905.5" y="947.1" width="31.5" height="30.6" fill="#95ce61"/>
<rect x="936" y="947.1" width="31.5" height="30.6" fill="#95ce61"/>
<rect x="174.3" y="976.8" width="31.5" height="30.6" fill="#6dc8b8"/>
<rect x="204.8" y="976.8" width="31.5" height="30.6" fill="#6dc8b8"/>
<rect x="235.3" y="976.8" width="31.5" height="30.6" fill="#70c8b1"/>
<rect x="265.7" y="976.8" width="31.5" height="30.6" fill="#75c9a4"/>
<rect x="296.2" y="976.8" width="31.5" height="30.6" fill="#7ac997"/>
<rect x="326.7" y="976.8" width="31.5" height="30.6" fill="#7fc98b"/>
<rect x="357.1" y="976.8" width="31.5" height="30.6" fill="#83ca82"/>
<rect x="387.6" y="976.8" width="31.5" height="30.6" fill="#86ca7c"/>
<rect x="418.1" y="976.8" width="31.5" height="30.6" fill="#8acb75"/>
<rect x="448.5" y="976.8" width="31.5" height="30.6" fill="#8ecc6d"/>
<rect x="479" y="976.8" width="31.5" height="30.6" fill="#96ce61"/>
<rect x="509.5" y="976.8" width="31.5" height="30.6" fill="#a3d250"/>
<rect x="539.9" y="976.8" width="31.5" height="30.6" fill="#afd540"/>
<rect x="570.4" y="976.8" width="31.5" height="30.6" fill="#bcd936"/>
<rect x="600.9" y="976.8" width="31.5" height="30.6" fill="#c6dc30"/>
<rect x="631.3" y="976.8" width="31.5" height="30.6" fill="#cbde2d"/>
<rect x="661.8" y="976.8" width="31.5" height="30.6" fill="#d3e028"/>
<rect x="692.3" y="976.8" width="31.5" height="30.6" fill="#dce322"/>
<rect x="722.7" y="976.8" width="31.5" height="30.6" fill="#e1e51e"/>
<rect x="753.2" y="976.8" width="31.5" height="30.6" fill="#dee421"/>
<rect x="783.7" y="976.8" width="31.5" height="30.6" fill="#d7e126"/>
<rect x="814.1" y="976.8" width="31.5" height="30.6" fill="#cadd2d"/>
<rect x="844.6" y="976.8" width="31.5" height="30.6" fill="#b1d63d"/>
<rect x="875.1" y="976.8" width="31.5" height="30.6" fill="#93cd64"/>
<rect x="905.5" y="976.8" width="31.5" height="30.6" fill="#89cb76"/>
<rect x="936" y="976.8" width="31.5" height="30.6" fill="#89cb76"/>
<rect x="174.3" y="1006.4" width="31.5" height="30.6" fill="#7bc994"/>
<rect x="204.8" y="1006.4" width="31.5" height="30.6" fill="#7bc994"/>
<rect x="235.3" y="1006.4" width="31.5" height="30.6" fill="#7dc98e"/>
<rect x="265.7" y="1006.4" width="31.5" height="30.6" fill="#82ca85"/>
<rect x="296.2" y="1006.4" width="31.5" height="30.6" fill="#86ca7d"/>
<rect x="326.7" y="1006.4" width="31.5" height="30.6" fill="#89cb76"/>
<rect x="357.1" y="1006.4" width="31.5" height="30.6" fill="#8ccb71"/>
<rect x="387.6" y="1006.4" width="31.5" height="30.6" fill="#8ecc6d"/>
<rect x="418.1" y="1006.4" width="31.5" height="30.6" fill="#90cc68"/>
<rect x="448.5" y="1006.4" width="31.5" height="30.6" fill="#96ce61"/>
<rect x="479" y="1006.4" width="31.5" height="30.6" fill="#9dd057"/>
<rect x="509.5" y="1006.4" width="31.5" height="30.6" fill="#a7d34a"/>
<rect x="539.9" y="1006.4" width="31.5" height="30.6" fill="#b1d63e"/>
<rect x="570.4" y="1006.4" width="31.5" height="30.6" fill="#bbd936"/>
<rect x="600.9" y="1006.4" width="31.5" height="30.6" fill="#c3db32"/>
<rect x="631.3" y="1006.4" width="31.5" height="30.6" fill="#c7dc2f"/>
<rect x="661.8" y="1006.4" width="31.5" height="30.6" fill="#cdde2b"/>
<rect x="692.3" y="1006.4" width="31.5" height="30.6" fill="#d5e127"/>
<rect x="722.7" y="1006.4" width="31.5" height="30.6" fill="#d8e125"/>
<rect x="753.2" y="1006.4" width="31.5" height="30.6" fill="#d5e127"/>
<rect x="783.7" y="1006.4" width="31.5" height="30.6" fill="#ccde2c"/>
<rect x="814.1" y="1006.4" width="31.5" height="30.6" fill="#bcd936"/>
<rect x="844.6" y="1006.4" width="31.5" height="30.6" fill="#a3d250"/>
<rect x="875.1" y="1006.4" width="31.5" height="30.6" fill="#87cb7a"/>
<rect x="905.5" y="1006.4" width="31.5" height="30.6" fill="#7dc98e"/>
<rect x="936" y="1006.4" width="31.5" height="30.6" fill="#7dc98e"/>
<rect x="174.3" y="1036" width="31.5" height="30.6" fill="#96ce60"/>
<rect x="204.8" y="1036" width="31.5" height="30.6" fill="#96ce60"/>
<rect x="235.3" y="1036" width="31.5" height="30.6" fill="#98ce5e"/>
<rect x="265.7" y="1036" width="31.5" height="30.6" fill="#9ccf59"/>
<rect x="296.2" y="1036" width="31.5" height="30.6" fill="#9dd057"/>
<rect x="326.7" y="1036" width="31.5" height="30.6" fill="#9dd057"/>
<rect x="357.1" y="1036" width="31.5" height="30.6" fill="#9dd057"/>
<rect x="387.6" y="1036" width="31.5" height="30.6" fill="#9dd057"/>
<rect x="418.1" y="1036" width="31.5" height="30.6" fill="#9ed056"/>
<rect x="448.5" y="1036" width="31.5" height="30.6" fill="#a1d152"/>
<rect x="479" y="1036" width="31.5" height="30.6" fill="#a5d24c"/>
<rect x="509.5" y="1036" width="31.5" height="30.6" fill="#abd445"/>
<rect x="539.9" y="1036" width="31.5" height="30.6" fill="#b1d63d"/>
<rect x="570.4" y="1036" width="31.5" height="30.6" fill="#b9d838"/>
<rect x="600.9" y="1036" width="31.5" height="30.6" fill="#bfda34"/>
<rect x="631.3" y="1036" width="31.5" height="30.6" fill="#c3db32"/>
<rect x="661.8" y="1036" width="31.5" height="30.6" fill="#c8dd2f"/>
<rect x="692.3" y="1036" width="31.5" height="30.6" fill="#cdde2b"/>
<rect x="722.7" y="1036" width="31.5" height="30.6" fill="#cdde2c"/>
<rect x="753.2" y="1036" width="31.5" height="30.6" fill="#c6dc30"/>
<rect x="783.7" y="1036" width="31.5" height="30.6" fill="#b8d838"/>
<rect x="814.1" y="1036" width="31.5" height="30.6" fill="#a5d24d"/>
<rect x="844.6" y="1036" width="31.5" height="30.6" fill="#8dcc6e"/>
<rect x="875.1" y="1036" width="31.5" height="30.6" fill="#79c997"/>
<rect x="905.5" y="1036" width="31.5" height="30.6" fill="#70c8af"/>
<rect x="936" y="1036" width="31.5" height="30.6" fill="#70c8af"/>
<rect x="174.3" y="1065.6" width="31.5" height="30.6" fill="#b4d73b"/>
<rect x="204.8" y="1065.6" width="31.5" height="30.6" fill="#b4d73b"/>
<rect x="235.3" y="1065.6" width="31.5" height="30.6" fill="#b4d73b"/>
<rect x="265.7" y="1065.6" width="31.5" height="30.6" fill="#b3d63b"/>
<rect x="296.2" y="1065.6" width="31.5" height="30.6" fill="#b0d63e"/>
<rect x="326.7" y="1065.6" width="31.5" height="30.6" fill="#abd445"/>
<rect x="357.1" y="1065.6" width="31.5" height="30.6" fill="#a6d24c"/>
<rect x="387.6" y="1065.6" width="31.5" height="30.6" fill="#a0d153"/>
<rect x="418.1" y="1065.6" width="31.5" height="30.6" fill="#9dd058"/>
<rect x="448.5" y="1065.6" width="31.5" height="30.6" fill="#9acf5b"/>
<rect x="479" y="1065.6" width="31.5" height="30.6" fill="#9bcf5a"/>
<rect x="509.5" y="1065.6" width="31.5" height="30.6" fill="#9ed055"/>
<rect x="539.9" y="1065.6" width="31.5" height="30.6" fill="#a2d151"/>
<rect x="570.4" y="1065.6" width="31.5" height="30.6" fill="#a5d24d"/>
<rect x="600.9" y="1065.6" width="31.5" height="30.6" fill="#a6d24c"/>
<rect x="631.3" y="1065.6" width="31.5" height="30.6" fill="#a5d24d"/>
<rect x="661.8" y="1065.6" width="31.5" height="30.6" fill="#a7d34b"/>
<rect x="692.3" y="1065.6" width="31.5" height="30.6" fill="#abd445"/>
<rect x="722.7" y="1065.6" width="31.5" height="30.6" fill="#acd444"/>
<rect x="753.2" y="1065.6" width="31.5" height="30.6" fill="#a9d348"/>
<rect x="783.7" y="1065.6" width="31.5" height="30.6" fill="#9fd054"/>
<rect x="814.1" y="1065.6" width="31.5" height="30.6" fill="#8fcc6a"/>
<rect x="844.6" y="1065.6" width="31.5" height="30.6" fill="#82ca85"/>
<rect x="875.1" y="1065.6" width="31.5" height="30.6" fill="#72c8ac"/>
<rect x="905.5" y="1065.6" width="31.5" height="30.6" fill="#6ac8c0"/>
<rect x="936" y="1065.6" width="31.5" height="30.6" fill="#6ac8c0"/>
<rect x="174.3" y="1095.2" width="31.5" height="30.6" fill="#cadd2e"/>
<rect x="204.8" y="1095.2" width="31.5" height="30.6" fill="#cadd2e"/>
<rect x="235.3" y="1095.2" width="31.5" height="30.6" fill="#c7dc2f"/>
<rect x="265.7" y="1095.2" width="31.5" height="30.6" fill="#c1da33"/>
<rect x="296.2" y="1095.2" width="31.5" height="30.6" fill="#b8d838"/>
<rect x="326.7" y="1095.2" width="31.5" height="30.6" fill="#afd540"/>
<rect x="357.1" y="1095.2" width="31.5" height="30.6" fill="#a4d24e"/>
<rect x="387.6" y="1095.2" width="31.5" height="30.6" fill="#97ce5f"/>
<rect x="418.1" y="1095.2" width="31.5" height="30.6" fill="#8dcc6e"/>
<rect x="448.5" y="1095.2" width="31.5" height="30.6" fill="#87cb79"/>
<rect x="479" y="1095.2" width="31.5" height="30.6" fill="#86ca7d"/>
<rect x="509.5" y="1095.2" width="31.5" height="30.6" fill="#88cb79"/>
<rect x="539.9" y="1095.2" width="31.5" height="30.6" fill="#88cb78"/>
<rect x="570.4" y="1095.2" width="31.5" height="30.6" fill="#87cb79"/>
<rect x="600.9" y="1095.2" width="31.5" height="30.6" fill="#84ca80"/>
<rect x="631.3" y="1095.2" width="31.5" height="30.6" fill="#7fc98b"/>
<rect x="661.8" y="1095.2" width="31.5" height="30.6" fill="#7ec98d"/>
<rect x="692.3" y="1095.2" width="31.5" height="30.6" fill="#81ca86"/>
<rect x="722.7" y="1095.2" width="31.5" height="30.6" fill="#85ca7f"/>
<rect x="753.2" y="1095.2" width="31.5" height="30.6" fill="#88cb77"/>
<rect x="783.7" y="1095.2" width="31.5" height="30.6" fill="#87cb7a"/>
<rect x="814.1" y="1095.2" width="31.5" height="30.6" fill="#81ca86"/>
<rect x="844.6" y="1095.2" width="31.5" height="30.6" fill="#79c998"/>
<rect x="875.1" y="1095.2" width="31.5" height="30.6" fill="#6fc8b3"/>
<rect x="905.5" y="1095.2" width="31.5" height="30.6" fill="#6ac8c0"/>
<rect x="936" y="1095.2" width="31.5" height="30.6" fill="#6ac8c0"/>
<rect x="174.3" y="1124.9" width="31.5" height="30.6" fill="#d2e028"/>
<rect x="204.8" y="1124.9" width="31.5" height="30.6" fill="#d2e028"/>
<rect x="235.3" y="1124.9" width="31.5" height="30.6" fill="#cedf2b"/>
<rect x="265.7" y="1124.9" width="31.5" height="30.6" fill="#c7dc2f"/>
<rect x="296.2" y="1124.9" width="31.5" height="30.6" fill="#bcd936"/>
<rect x="326.7" y="1124.9" width="31.5" height="30.6" fill="#afd540"/>
<rect x="357.1" y="1124.9" width="31.5" height="30.6" fill="#a1d153"/>
<rect x="387.6" y="1124.9" width="31.5" height="30.6" fill="#8fcc6a"/>
<rect x="418.1" y="1124.9" width="31.5" height="30.6" fill="#85ca7d"/>
<rect x="448.5" y="1124.9" width="31.5" height="30.6" fill="#7cc991"/>
<rect x="479" y="1124.9" width="31.5" height="30.6" fill="#79c998"/>
<rect x="509.5" y="1124.9" width="31.5" height="30.6" fill="#7cc990"/>
<rect x="539.9" y="1124.9" width="31.5" height="30.6" fill="#7dc98e"/>
<rect x="570.4" y="1124.9" width="31.5" height="30.6" fill="#7cc991"/>
<rect x="600.9" y="1124.9" width="31.5" height="30.6" fill="#78c99b"/>
<rect x="631.3" y="1124.9" width="31.5" height="30.6" fill="#71c8ad"/>
<rect x="661.8" y="1124.9" width="31.5" height="30.6" fill="#6fc8b2"/>
<rect x="692.3" y="1124.9" width="31.5" height="30.6" fill="#73c8a8"/>
<rect x="722.7" y="1124.9" width="31.5" height="30.6" fill="#76c99f"/>
<rect x="753.2" y="1124.9" width="31.5" height="30.6" fill="#7ac997"/>
<rect x="783.7" y="1124.9" width="31.5" height="30.6" fill="#7bc994"/>
<rect x="814.1" y="1124.9" width="31.5" height="30.6" fill="#7ac996"/>
<rect x="844.6" y="1124.9" width="31.5" height="30.6" fill="#77c99e"/>
<rect x="875.1" y="1124.9" width="31.5" height="30.6" fill="#71c8ad"/>
<rect x="905.5" y="1124.9" width="31.5" height="30.6" fill="#6ec8b4"/>
<rect x="936" y="1124.9" width="31.5" height="30.6" fill="#6ec8b4"/>
<rect x="174.3" y="1154.5" width="31.5" height="30.6" fill="#cede2b"/>
<rect x="204.8" y="1154.5" width="31.5" height="30.6" fill="#cede2b"/>
<rect x="235.3" y="1154.5" width="31.5" height="30.6" fill="#cbde2d"/>
<rect x="265.7" y="1154.5" width="31.5" height="30.6" fill="#c6dc30"/>
<rect x="296.2" y="1154.5" width="31.5" height="30.6" fill="#bbd936"/>
<rect x="326.7" y="1154.5" width="31.5" height="30.6" fill="#acd443"/>
<rect x="357.1" y="1154.5" width="31.5" height="30.6" fill="#9cd058"/>
<rect x="387.6" y="1154.5" width="31.5" height="30.6" fill="#8ccb70"/>
<rect x="418.1" y="1154.5" width="31.5" height="30.6" fill="#80ca89"/>
<rect x="448.5" y="1154.5" width="31.5" height="30.6" fill="#74c9a5"/>
<rect x="479" y="1154.5" width="31.5" height="30.6" fill="#71c8ac"/>
<rect x="509.5" y="1154.5" width="31.5" height="30.6" fill="#77c99d"/>
<rect x="539.9" y="1154.5" width="31.5" height="30.6" fill="#7ac995"/>
<rect x="570.4" y="1154.5" width="31.5" height="30.6" fill="#7ac997"/>
<rect x="600.9" y="1154.5" width="31.5" height="30.6" fill="#76c99f"/>
<rect x="631.3" y="1154.5" width="31.5" height="30.6" fill="#71c8af"/>
<rect x="661.8" y="1154.5" width="31.5" height="30.6" fill="#6fc8b2"/>
<rect x="692.3" y="1154.5" width="31.5" height="30.6" fill="#73c8a8"/>
<rect x="722.7" y="1154.5" width="31.5" height="30.6" fill="#74c9a5"/>
<rect x="753.2" y="1154.5" width="31.5" height="30.6" fill="#73c8a9"/>
<rect x="783.7" y="1154.5" width="31.5" height="30.6" fill="#74c9a4"/>
<rect x="814.1" y="1154.5" width="31.5" height="30.6" fill="#79c998"/>
<rect x="844.6" y="1154.5" width="31.5" height="30.6" fill="#7ac995"/>
<rect x="875.1" y="1154.5" width="31.5" height="30.6" fill="#78c99a"/>
<rect x="905.5" y="1154.5" width="31.5" height="30.6" fill="#78c99c"/>
<rect x="936" y="1154.5" width="31.5" height="30.6" fill="#78c99c"/>
<rect x="174.3" y="1184.1" width="31.5" height="30.6" fill="#c5dc30"/>
<rect x="204.8" y="1184.1" width="31.5" height="30.6" fill="#c5dc30"/>
<rect x="235.3" y="1184.1" width="31.5" height="30.6" fill="#c2db33"/>
<rect x="265.7" y="1184.1" width="31.5" height="30.6" fill="#bad837"/>
<rect x="296.2" y="1184.1" width="31.5" height="30.6" fill="#b0d63e"/>
<rect x="326.7" y="1184.1" width="31.5" height="30.6" fill="#a6d24b"/>
<rect x="357.1" y="1184.1" width="31.5" height="30.6" fill="#98ce5e"/>
<rect x="387.6" y="1184.1" width="31.5" height="30.6" fill="#8acb74"/>
<rect x="418.1" y="1184.1" width="31.5" height="30.6" fill="#7fc98a"/>
<rect x="448.5" y="1184.1" width="31.5" height="30.6" fill="#75c9a4"/>
<rect x="479" y="1184.1" width="31.5" height="30.6" fill="#72c8ab"/>
<rect x="509.5" y="1184.1" width="31.5" height="30.6" fill="#77c99e"/>
<rect x="539.9" y="1184.1" width="31.5" height="30.6" fill="#7ac996"/>
<rect x="570.4" y="1184.1" width="31.5" height="30.6" fill="#7bc994"/>
<rect x="600.9" y="1184.1" width="31.5" height="30.6" fill="#79c999"/>
<rect x="631.3" y="1184.1" width="31.5" height="30.6" fill="#74c9a6"/>
<rect x="661.8" y="1184.1" width="31.5" height="30.6" fill="#73c8a9"/>
<rect x="692.3" y="1184.1" width="31.5" height="30.6" fill="#75c9a2"/>
<rect x="722.7" y="1184.1" width="31.5" height="30.6" fill="#75c9a2"/>
<rect x="753.2" y="1184.1" width="31.5" height="30.6" fill="#73c8a9"/>
<rect x="783.7" y="1184.1" width="31.5" height="30.6" fill="#74c9a4"/>
<rect x="814.1" y="1184.1" width="31.5" height="30.6" fill="#7bc994"/>
<rect x="844.6" y="1184.1" width="31.5" height="30.6" fill="#7ec98b"/>
<rect x="875.1" y="1184.1" width="31.5" height="30.6" fill="#7fca89"/>
<rect x="905.5" y="1184.1" width="31.5" height="30.6" fill="#80ca88"/>
<rect x="936" y="1184.1" width="31.5" height="30.6" fill="#80ca88"/>
<rect x="174.3" y="1213.8" width="31.5" height="30.6" fill="#b8d838"/>
<rect x="204.8" y="1213.8" width="31.5" height="30.6" fill="#b8d838"/>
<rect x="235.3" y="1213.8" width="31.5" height="30.6" fill="#b2d63d"/>
<rect x="265.7" y="1213.8" width="31.5" height="30.6" fill="#a7d34b"/>
<rect x="296.2" y="1213.8" width="31.5" height="30.6" fill="#9fd054"/>
<rect x="326.7" y="1213.8" width="31.5" height="30.6" fill="#9cd059"/>
<rect x="357.1" y="1213.8" width="31.5" height="30.6" fill="#94cd63"/>
<rect x="387.6" y="1213.8" width="31.5" height="30.6" fill="#8bcb72"/>
<rect x="418.1" y="1213.8" width="31.5" height="30.6" fill="#84ca80"/>
<rect x="448.5" y="1213.8" width="31.5" height="30.6" fill="#7dc98e"/>
<rect x="479" y="1213.8" width="31.5" height="30.6" fill="#7ac994"/>
<rect x="509.5" y="1213.8" width="31.5" height="30.6" fill="#7bc993"/>
<rect x="539.9" y="1213.8" width="31.5" height="30.6" fill="#7cc98f"/>
<rect x="570.4" y="1213.8" width="31.5" height="30.6" fill="#7fca89"/>
<rect x="600.9" y="1213.8" width="31.5" height="30.6" fill="#7fc98b"/>
<rect x="631.3" y="1213.8" width="31.5" height="30.6" fill="#7ac994"/>
<rect x="661.8" y="1213.8" width="31.5" height="30.6" fill="#79c998"/>
<rect x="692.3" y="1213.8" width="31.5" height="30.6" fill="#7ac996"/>
<rect x="722.7" y="1213.8" width="31.5" height="30.6" fill="#7ac996"/>
<rect x="753.2" y="1213.8" width="31.5" height="30.6" fill="#79c998"/>
<rect x="783.7" y="1213.8" width="31.5" height="30.6" fill="#7bc994"/>
<rect x="814.1" y="1213.8" width="31.5" height="30.6" fill="#7fca89"/>
<rect x="844.6" y="1213.8" width="31.5" height="30.6" fill="#84ca81"/>
<rect x="875.1" y="1213.8" width="31.5" height="30.6" fill="#86cb7b"/>
<rect x="905.5" y="1213.8" width="31.5" height="30.6" fill="#88cb78"/>
<rect x="936" y="1213.8" width="31.5" height="30.6" fill="#88cb78"/>
<rect x="174.3" y="1243.4" width="31.5" height="30.6" fill="#b6d739"/>
<rect x="204.8" y="1243.4" width="31.5" height="30.6" fill="#b6d739"/>
<rect x="235.3" y="1243.4" width="31.5" height="30.6" fill="#b0d53f"/>
<rect x="265.7" y="1243.4" width="31.5" height="30.6" fill="#a5d24d"/>
<rect x="296.2" y="1243.4" width="31.5" height="30.6" fill="#9ed055"/>
<rect x="326.7" y="1243.4" width="31.5" height="30.6" fill="#9dd057"/>
<rect x="357.1" y="1243.4" width="31.5" height="30.6" fill="#97ce5f"/>
<rect x="387.6" y="1243.4" width="31.5" height="30.6" fill="#8fcc6a"/>
<rect x="418.1" y="1243.4" width="31.5" height="30.6" fill="#8acb74"/>
<rect x="448.5" y="1243.4" width="31.5" height="30.6" fill="#87cb7b"/>
<rect x="479" y="1243.4" width="31.5" height="30.6" fill="#84ca7f"/>
<rect x="509.5" y="1243.4" width="31.5" height="30.6" fill="#84ca81"/>
<rect x="539.9" y="1243.4" width="31.5" height="30.6" fill="#84ca80"/>
<rect x="570.4" y="1243.4" width="31.5" height="30.6" fill="#87cb7b"/>
<rect x="600.9" y="1243.4" width="31.5" height="30.6" fill="#86ca7c"/>
<rect x="631.3" y="1243.4" width="31.5" height="30.6" fill="#82ca84"/>
<rect x="661.8" y="1243.4" width="31.5" height="30.6" fill="#80ca89"/>
<rect x="692.3" y="1243.4" width="31.5" height="30.6" fill="#7fc98a"/>
<rect x="722.7" y="1243.4" width="31.5" height="30.6" fill="#7fc98a"/>
<rect x="753.2" y="1243.4" width="31.5" height="30.6" fill="#80ca89"/>
<rect x="783.7" y="1243.4" width="31.5" height="30.6" fill="#82ca85"/>
<rect x="814.1" y="1243.4" width="31.5" height="30.6" fill="#85ca7d"/>
<rect x="844.6" y="1243.4" width="31.5" height="30.6" fill="#89cb75"/>
<rect x="875.1" y="1243.4" width="31.5" height="30.6" fill="#8ecc6c"/>
<rect x="905.5" y="1243.4" width="31.5" height="30.6" fill="#90cc68"/>
<rect x="936" y="1243.4" width="31.5" height="30.6" fill="#90cc68"/>
<rect x="174.3" y="1273" width="31.5" height="30.6" fill="#bfda34"/>
<rect x="204.8" y="1273" width="31.5" height="30.6" fill="#bfda34"/>
<rect x="235.3" y="1273" width="31.5" height="30.6" fill="#bbd936"/>
<rect x="265.7" y="1273" width="31.5" height="30.6" fill="#b4d63b"/>
<rect x="296.2" y="1273" width="31.5" height="30.6" fill="#aed542"/>
<rect x="326.7" y="1273" width="31.5" height="30.6" fill="#a9d348"/>
<rect x="357.1" y="1273" width="31.5" height="30.6" fill="#a2d150"/>
<rect x="387.6" y="1273" width="31.5" height="30.6" fill="#9bcf5a"/>
<rect x="418.1" y="1273" width="31.5" height="30.6" fill="#95cd62"/>
<rect x="448.5" y="1273" width="31.5" height="30.6" fill="#90cc67"/>
<rect x="479" y="1273" width="31.5" height="30.6" fill="#90cc69"/>
<rect x="509.5" y="1273" width="31.5" height="30.6" fill="#91cc67"/>
<rect x="539.9" y="1273" width="31.5" height="30.6" fill="#91cc66"/>
<rect x="570.4" y="1273" width="31.5" height="30.6" fill="#90cc67"/>
<rect x="600.9" y="1273" width="31.5" height="30.6" fill="#8ecc6c"/>
<rect x="631.3" y="1273" width="31.5" height="30.6" fill="#8acb74"/>
<rect x="661.8" y="1273" width="31.5" height="30.6" fill="#87cb79"/>
<rect x="692.3" y="1273" width="31.5" height="30.6" fill="#86ca7d"/>
<rect x="722.7" y="1273" width="31.5" height="30.6" fill="#86ca7d"/>
<rect x="753.2" y="1273" width="31.5" height="30.6" fill="#87cb79"/>
<rect x="783.7" y="1273" width="31.5" height="30.6" fill="#89cb75"/>
<rect x="814.1" y="1273" width="31.5" height="30.6" fill="#8ccb70"/>
<rect x="844.6" y="1273" width="31.5" height="30.6" fill="#90cc68"/>
<rect x="875.1" y="1273" width="31.5" height="30.6" fill="#99cf5c"/>
<rect x="905.5" y="1273" width="31.5" height="30.6" fill="#9ed056"/>
<rect x="936" y="1273" width="31.5" height="30.6" fill="#9ed056"/>
<rect x="174.3" y="1302.6" width="31.5" height="30.6" fill="#cadd2e"/>
<rect x="204.8" y="1302.6" width="31.5" height="30.6" fill="#cadd2e"/>
<rect x="235.3" y="1302.6" width="31.5" height="30.6" fill="#c7dc2f"/>
<rect x="265.7" y="1302.6" width="31.5" height="30.6" fill="#c2db33"/>
<rect x="296.2" y="1302.6" width="31.5" height="30.6" fill="#bbd936"/>
<rect x="326.7" y="1302.6" width="31.5" height="30.6" fill="#b4d63b"/>
<rect x="357.1" y="1302.6" width="31.5" height="30.6" fill="#add542"/>
<rect x="387.6" y="1302.6" width="31.5" height="30.6" fill="#a7d34a"/>
<rect x="418.1" y="1302.6" width="31.5" height="30.6" fill="#a3d250"/>
<rect x="448.5" y="1302.6" width="31.5" height="30.6" fill="#9fd054"/>
<rect x="479" y="1302.6" width="31.5" height="30.6" fill="#9fd055"/>
<rect x="509.5" y="1302.6" width="31.5" height="30.6" fill="#a1d151"/>
<rect x="539.9" y="1302.6" width="31.5" height="30.6" fill="#a1d152"/>
<rect x="570.4" y="1302.6" width="31.5" height="30.6" fill="#9ed056"/>
<rect x="600.9" y="1302.6" width="31.5" height="30.6" fill="#99cf5c"/>
<rect x="631.3" y="1302.6" width="31.5" height="30.6" fill="#93cd64"/>
<rect x="661.8" y="1302.6" width="31.5" height="30.6" fill="#8fcc6a"/>
<rect x="692.3" y="1302.6" width="31.5" height="30.6" fill="#8dcc6e"/>
<rect x="722.7" y="1302.6" width="31.5" height="30.6" fill="#8ccb6f"/>
<rect x="753.2" y="1302.6" width="31.5" height="30.6" fill="#8ecc6d"/>
<rect x="783.7" y="1302.6" width="31.5" height="30.6" fill="#8fcc6a"/>
<rect x="814.1" y="1302.6" width="31.5" height="30.6" fill="#92cc66"/>
<rect x="844.6" y="1302.6" width="31.5" height="30.6" fill="#98ce5e"/>
<rect x="875.1" y="1302.6" width="31.5" height="30.6" fill="#a1d151"/>
<rect x="905.5" y="1302.6" width="31.5" height="30.6" fill="#a6d24b"/>
<rect x="936" y="1302.6" width="31.5" height="30.6" fill="#a6d24b"/>
<rect x="174.3" y="1332.2" width="31.5" height="30.6" fill="#d7e126"/>
<rect x="204.8" y="1332.2" width="31.5" height="30.6" fill="#d7e126"/>
<rect x="235.3" y="1332.2" width="31.5" height="30.6" fill="#d3e028"/>
<rect x="265.7" y="1332.2" width="31.5" height="30.6" fill="#cbde2d"/>
<rect x="296.2" y="1332.2" width="31.5" height="30.6" fill="#c5dc31"/>
<rect x="326.7" y="1332.2" width="31.5" height="30.6" fill="#bfda34"/>
<rect x="357.1" y="1332.2" width="31.5" height="30.6" fill="#bad837"/>
<rect x="387.6" y="1332.2" width="31.5" height="30.6" fill="#b5d73a"/>
<rect x="418.1" y="1332.2" width="31.5" height="30.6" fill="#b0d63e"/>
<rect x="448.5" y="1332.2" width="31.5" height="30.6" fill="#add443"/>
<rect x="479" y="1332.2" width="31.5" height="30.6" fill="#acd444"/>
<rect x="509.5" y="1332.2" width="31.5" height="30.6" fill="#acd443"/>
<rect x="539.9" y="1332.2" width="31.5" height="30.6" fill="#abd445"/>
<rect x="570.4" y="1332.2" width="31.5" height="30.6" fill="#a8d349"/>
<rect x="600.9" y="1332.2" width="31.5" height="30.6" fill="#a4d24e"/>
<rect x="631.3" y="1332.2" width="31.5" height="30.6" fill="#a0d154"/>
<rect x="661.8" y="1332.2" width="31.5" height="30.6" fill="#9cd059"/>
<rect x="692.3" y="1332.2" width="31.5" height="30.6" fill="#98ce5d"/>
<rect x="722.7" y="1332.2" width="31.5" height="30.6" fill="#96ce60"/>
<rect x="753.2" y="1332.2" width="31.5" height="30.6" fill="#94cd63"/>
<rect x="783.7" y="1332.2" width="31.5" height="30.6" fill="#95ce61"/>
<rect x="814.1" y="1332.2" width="31.5" height="30.6" fill="#98ce5d"/>
<rect x="844.6" y="1332.2" width="31.5" height="30.6" fill="#9ed056"/>
<rect x="875.1" y="1332.2" width="31.5" height="30.6" fill="#a6d24c"/>
<rect x="905.5" y="1332.2" width="31.5" height="30.6" fill="#a9d447"/>
<rect x="936" y="1332.2" width="31.5" height="30.6" fill="#a9d447"/>
<rect x="174.3" y="1361.9" width="31.5" height="30.6" fill="#dde322"/>
<rect x="204.8" y="1361.9" width="31.5" height="30.6" fill="#dde322"/>
<rect x="235.3" y="1361.9" width="31.5" height="30.6" fill="#d9e225"/>
<rect x="265.7" y="1361.9" width="31.5" height="30.6" fill="#d0df2a"/>
<rect x="296.2" y="1361.9" width="31.5" height="30.6" fill="#cadd2e"/>
<rect x="326.7" y="1361.9" width="31.5" height="30.6" fill="#c5dc30"/>
<rect x="357.1" y="1361.9" width="31.5" height="30.6" fill="#c1db33"/>
<rect x="387.6" y="1361.9" width="31.5" height="30.6" fill="#bdd936"/>
<rect x="418.1" y="1361.9" width="31.5" height="30.6" fill="#b8d838"/>
<rect x="448.5" y="1361.9" width="31.5" height="30.6" fill="#b4d73b"/>
<rect x="479" y="1361.9" width="31.5" height="30.6" fill="#b2d63c"/>
<rect x="509.5" y="1361.9" width="31.5" height="30.6" fill="#b2d63c"/>
<rect x="539.9" y="1361.9" width="31.5" height="30.6" fill="#b0d63e"/>
<rect x="570.4" y="1361.9" width="31.5" height="30.6" fill="#add443"/>
<rect x="600.9" y="1361.9" width="31.5" height="30.6" fill="#a9d447"/>
<rect x="631.3" y="1361.9" width="31.5" height="30.6" fill="#a6d24b"/>
<rect x="661.8" y="1361.9" width="31.5" height="30.6" fill="#a3d250"/>
<rect x="692.3" y="1361.9" width="31.5" height="30.6" fill="#9fd054"/>
<rect x="722.7" y="1361.9" width="31.5" height="30.6" fill="#9cd059"/>
<rect x="753.2" y="1361.9" width="31.5" height="30.6" fill="#98ce5d"/>
<rect x="783.7" y="1361.9" width="31.5" height="30.6" fill="#98ce5d"/>
<rect x="814.1" y="1361.9" width="31.5" height="30.6" fill="#9cd059"/>
<rect x="844.6" y="1361.9" width="31.5" height="30.6" fill="#a1d152"/>
<rect x="875.1" y="1361.9" width="31.5" height="30.6" fill="#a8d349"/>
<rect x="905.5" y="1361.9" width="31.5" height="30.6" fill="#abd445"/>
<rect x="936" y="1361.9" width="31.5" height="30.6" fill="#abd445"/>
<rect x="174.3" y="1391.5" width="31.5" height="30.6" fill="#dde322"/>
<rect x="204.8" y="1391.5" width="31.5" height="30.6" fill="#dde322"/>
<rect x="235.3" y="1391.5" width="31.5" height="30.6" fill="#d9e225"/>
<rect x="265.7" y="1391.5" width="31.5" height="30.6" fill="#d0df2a"/>
<rect x="296.2" y="1391.5" width="31.5" height="30.6" fill="#cadd2e"/>
<rect x="326.7" y="1391.5" width="31.5" height="30.6" fill="#c5dc30"/>
<rect x="357.1" y="1391.5" width="31.5" height="30.6" fill="#c1db33"/>
<rect x="387.6" y="1391.5" width="31.5" height="30.6" fill="#bdd936"/>
<rect x="418.1" y="1391.5" width="31.5" height="30.6" fill="#b8d838"/>
<rect x="448.5" y="1391.5" width="31.5" height="30.6" fill="#b4d73b"/>
<rect x="479" y="1391.5" width="31.5" height="30.6" fill="#b2d63c"/>
<rect x="509.5" y="1391.5" width="31.5" height="30.6" fill="#b2d63c"/>
<rect x="539.9" y="1391.5" width="31.5" height="30.6" fill="#b0d63e"/>
<rect x="570.4" y="1391.5" width="31.5" height="30.6" fill="#add443"/>
<rect x="600.9" y="1391.5" width="31.5" height="30.6" fill="#a9d447"/>
<rect x="631.3" y="1391.5" width="31.5" height="30.6" fill="#a6d24b"/>
<rect x="661.8" y="1391.5" width="31.5" height="30.6" fill="#a3d250"/>
<rect x="692.3" y="1391.5" width="31.5" height="30.6" fill="#9fd054"/>
<rect x="722.7" y="1391.5" width="31.5" height="30.6" fill="#9cd059"/>
<rect x="753.2" y="1391.5" width="31.5" height="30.6" fill="#98ce5d"/>
<rect x="783.7" y="1391.5" width="31.5" height="30.6" fill="#98ce5d"/>
<rect x="814.1" y="1391.5" width="31.5" height="30.6" fill="#9cd059"/>
<rect x="844.6" y="1391.5" width="31.5" height="30.6" fill="#a1d152"/>
<rect x="875.1" y="1391.5" width="31.5" height="30.6" fill="#a8d349"/>
<rect x="905.5" y="1391.5" width="31.5" height="30.6" fill="#abd445"/>
<rect x="936" y="1391.5" width="31.5" height="30.6" fill="#abd445"/></g>
<g filter="url(#bl3)"><ellipse cx="850.8" cy="1026" rx="4.7" ry="7.2" fill="#f6ee10" opacity="0.95" transform="rotate(3 850.8 1026)"/>
<ellipse cx="651" cy="1021" rx="2.7" ry="4.2" fill="#f6ee10" opacity="0.8" transform="rotate(-30 651 1021)"/>
<ellipse cx="241" cy="1134" rx="6" ry="9.1" fill="#f6ee10" opacity="0.7" transform="rotate(19 241 1134)"/>
<ellipse cx="736" cy="1256.4" rx="2.2" ry="3.4" fill="#f6ee10" opacity="0.8" transform="rotate(11 736 1256.4)"/>
<ellipse cx="521.8" cy="1293.8" rx="1.9" ry="2.9" fill="#f6ee10" opacity="0.8" transform="rotate(3 521.8 1293.8)"/>
<ellipse cx="934" cy="1321" rx="7.6" ry="11.7" fill="#f6ee10" opacity="0.6" transform="rotate(-29 934 1321)"/>
<ellipse cx="905" cy="1007" rx="2.5" ry="3.9" fill="#f6ee10" opacity="0.4" transform="rotate(26 905 1007)"/></g>
<g filter="url(#bl2)"><ellipse cx="287.8" cy="933.8" rx="2.5" ry="3.9" fill="#0f9f86" opacity="0.9" transform="rotate(-14 287.8 933.8)"/>
<ellipse cx="255.4" cy="928.8" rx="1.4" ry="2.1" fill="#0f9f86" opacity="0.8" transform="rotate(-16 255.4 928.8)"/>
<ellipse cx="228" cy="1033" rx="2.5" ry="3.9" fill="#0f9f86" opacity="0.8" transform="rotate(-15 228 1033)"/>
<ellipse cx="231.5" cy="1029" rx="1.7" ry="2.6" fill="#0f9f86" opacity="0.7" transform="rotate(-3 231.5 1029)"/>
<ellipse cx="273.4" cy="1024.6" rx="2.2" ry="3.4" fill="#0f9f86" opacity="0.8" transform="rotate(-23 273.4 1024.6)"/>
<ellipse cx="424.6" cy="995" rx="1.9" ry="2.9" fill="#0f9f86" opacity="0.85" transform="rotate(-13 424.6 995)"/>
<ellipse cx="379" cy="1162.8" rx="2.4" ry="3.6" fill="#0f9f86" opacity="0.7" transform="rotate(-9 379 1162.8)"/>
<ellipse cx="408" cy="1160.6" rx="2.5" ry="3.9" fill="#0f9f86" opacity="0.7" transform="rotate(7 408 1160.6)"/>
<ellipse cx="207" cy="1175.8" rx="2.5" ry="3.9" fill="#0f9f86" opacity="0.9" transform="rotate(26 207 1175.8)"/>
<ellipse cx="367" cy="1224" rx="1.7" ry="2.6" fill="#0f9f86" opacity="0.7" transform="rotate(-29 367 1224)"/>
<ellipse cx="757" cy="1198.8" rx="1.7" ry="2.6" fill="#0f9f86" opacity="0.7" transform="rotate(-15 757 1198.8)"/>
<ellipse cx="231.6" cy="1312.6" rx="1.7" ry="2.6" fill="#0f9f86" opacity="0.7" transform="rotate(9 231.6 1312.6)"/>
<ellipse cx="213.6" cy="1342.8" rx="1.9" ry="2.9" fill="#0f9f86" opacity="0.6" transform="rotate(-27 213.6 1342.8)"/>
<ellipse cx="532.6" cy="920" rx="2.1" ry="3.2" fill="#0f9f86" opacity="0.8" transform="rotate(-22 532.6 920)"/>
<ellipse cx="462" cy="1101.6" rx="2.2" ry="3.4" fill="#0f9f86" opacity="0.45" transform="rotate(28 462 1101.6)"/>
<ellipse cx="530" cy="1100" rx="2.2" ry="3.4" fill="#0f9f86" opacity="0.45" transform="rotate(20 530 1100)"/>
<ellipse cx="671.6" cy="1107" rx="2" ry="3.1" fill="#0f9f86" opacity="0.4" transform="rotate(12 671.6 1107)"/>
<ellipse cx="485.8" cy="1155.6" rx="2.2" ry="3.4" fill="#0f9f86" opacity="0.45" transform="rotate(-3 485.8 1155.6)"/>
<ellipse cx="490.8" cy="950" rx="2.4" ry="3.6" fill="#0f9f86" opacity="0.35" transform="rotate(15 490.8 950)"/>
<ellipse cx="514.6" cy="984" rx="1.7" ry="2.6" fill="#0f9f86" opacity="0.35" transform="rotate(-16 514.6 984)"/>
<ellipse cx="256.8" cy="995" rx="1.7" ry="2.6" fill="#0f9f86" opacity="0.4" transform="rotate(12 256.8 995)"/>
<ellipse cx="698" cy="991.4" rx="2" ry="3.1" fill="#0f9f86" opacity="0.45" transform="rotate(-30 698 991.4)"/>
<ellipse cx="669" cy="998.6" rx="1.7" ry="2.6" fill="#0f9f86" opacity="0.4" transform="rotate(28 669 998.6)"/>
<ellipse cx="791.8" cy="1204.6" rx="2" ry="3.1" fill="#0f9f86" opacity="0.35" transform="rotate(6 791.8 1204.6)"/>
<ellipse cx="722" cy="1293.8" rx="1.4" ry="2.1" fill="#0f9f86" opacity="0.7" transform="rotate(25 722 1293.8)"/>
<ellipse cx="645.6" cy="1351" rx="1.7" ry="2.6" fill="#0f9f86" opacity="0.3" transform="rotate(22 645.6 1351)"/></g>
</g>
<rect x="205.3" y="1392" width="731.2" height="225.4" fill="#fff"/>
<line x1="205.3" y1="1428.4" x2="936.5" y2="1428.4" stroke="#454545" stroke-width="0.85"/>
<line x1="205.3" y1="1507.3" x2="936.5" y2="1507.3" stroke="#454545" stroke-width="0.85"/>
<line x1="205.3" y1="1586.5" x2="936.5" y2="1586.5" stroke="#454545" stroke-width="0.85"/>
<line x1="343.2" y1="1396.7" x2="343.2" y2="1617.4" stroke="#2e2e2e" stroke-width="0.9"/>
<line x1="528.7" y1="1396.7" x2="528.7" y2="1617.4" stroke="#2e2e2e" stroke-width="0.9"/>
<line x1="713.8" y1="1396.7" x2="713.8" y2="1617.4" stroke="#2e2e2e" stroke-width="0.9"/>
<line x1="899.6" y1="1396.7" x2="899.6" y2="1617.4" stroke="#2e2e2e" stroke-width="0.9"/>
<path d="M205.3 1392 L205.3 1617.4 L936.5 1617.4 L936.5 1392" fill="none" stroke="#5a5a5a" stroke-width="1"/>
<polyline points="205.3,1581.6 206.7,1581.6 206.6,1578.6 208.3,1579.1 209,1577.2 209.7,1576.6 211.3,1577.1 212.7,1576.4 214,1577.5 215.3,1576.9 217.1,1577.9 218.7,1576.6 219.6,1576.1 220.4,1576.7 220.9,1577.2 222.3,1579 223.1,1581.5 224.1,1581.8 225,1582.8 226.2,1580.9 227.7,1580.3 229.4,1580.3 230.4,1582.3 231.7,1581.2 233,1583.4 233.8,1584.5 234.9,1585 235.6,1585.2 236.8,1586.1 238.8,1584.1 239.9,1585.2 241,1584.5 242.4,1584.1 243.8,1584.6 245.2,1584 246.6,1582.8 247.3,1584.7 248.8,1584.8 249.3,1586.9 250.4,1587 250.7,1587.7 252.1,1588.4 252.8,1590.2 254.8,1589.8 256.3,1590.1 257.9,1591.2 258.9,1590.9 260.1,1591.5 261.5,1592.2 262.4,1591.9 263.8,1594.2 265.2,1592.8 266.3,1594.3 267.4,1593.6 268.2,1591.2 268.8,1589.7 269.4,1589.1 270,1588.4 270.9,1590 271.9,1589.9 274,1589.9 274.5,1592.1 276,1591.9 276.8,1591.3 277.3,1589.4 278.3,1589.1 279.1,1588.6 280.5,1586.5 280.1,1585.7 280.3,1583.2 281.4,1581.6 280.9,1581.5 281.3,1578.6 282.1,1577.5 281.2,1576.5 282.1,1576.1 281.7,1573.8 281.7,1572.7 282.8,1572 283.1,1570.6 283.2,1569.1 283,1567.3 283.2,1568 283.6,1569.5 283.2,1571.1 284.3,1571.7 284.2,1573.6 284.3,1574.4 285,1576 284.8,1577.7 284.4,1579.3 284.7,1579.5 284.8,1581 285.1,1583.4 285.8,1585.6 286.5,1586.9 285.9,1587 286.4,1588.4 287.4,1588.8 289.2,1589.5 290.6,1588.5 291.6,1589.3 293,1589.5 293.7,1588.7 295.5,1589.1 297.1,1589.6 297.7,1589.7 299.1,1590 300.7,1590.9 302.2,1590.6 303.5,1590.9 304.9,1591.3 306.8,1590.2 308.6,1591.4 309.2,1591.5 310.6,1591.1 311.7,1592.8 313,1593.4 313.1,1591 314.3,1590.1 314.5,1589.9 315,1587 315.4,1586 317.4,1585.3 317.6,1585.7 319.1,1584.4 321,1584.5 322.4,1583.9 322.4,1582.4 324,1581.5 325.7,1581.7 327.7,1582 328.9,1582.4 330.3,1581.9 332.2,1583.6 333.9,1582.8 334.5,1582.5 335.7,1581.2 336.9,1580.1 338.4,1579 338.8,1577.5 339.8,1578.3 341.3,1576.6 342.4,1576.4 343.4,1573.1 344.3,1573.6 345,1571.7 346.5,1571.3 347.3,1570.8 349.1,1569.9 350,1570 351.6,1569.7 353.7,1570.2 354.8,1569.3 356.1,1568.8 356.1,1566.2 357.1,1565 357.8,1564.8 359.1,1563.3 359.7,1560.9 360,1561.8 360.9,1559.4 361.9,1558.4 363.1,1556.8 365,1557 367.1,1557.5 368.3,1555.7 369.3,1553.6 369.7,1552.6 370.7,1552 372.3,1553.2 373.5,1553.5 375.1,1552.8 376.9,1552 376.9,1550.8 378.3,1550 377.8,1548.2 378.9,1546.3 379.6,1545.5 379.8,1544.1 380,1543 381.1,1542.3 381.1,1539.5 381.4,1537.9 382.1,1538.5 382.1,1536.3 383,1534.9 384,1533.8 385.2,1534.1 386.2,1532.1 387.5,1530.9 388,1530.4 389.6,1530.1 391,1529.9 392,1528.5 392.8,1528 394.2,1527.4 396,1526.6 396.6,1525.5 397.7,1525.7 400,1526 401.5,1527.5 402.8,1528.1 403.9,1528 404.7,1528.2 406.9,1526.6 408,1525.5 409.6,1525.4 409.7,1524.3 411.3,1522.6 412.8,1522.5 414,1524.1 415,1524.5 416.3,1525.5 417.9,1525.4 419.9,1525.5 420.5,1523.8 421.4,1523.2 421.7,1523.2 422.2,1519.8 423.4,1520.6 424.3,1519.3 424.8,1517.6 425.2,1516.7 425.5,1514.4 426.1,1512.5 426.1,1512.8 426.7,1511.5 427.8,1509.4 428.1,1508.9 428.8,1506.1 428.4,1505.3 429.2,1503.8 429.7,1502.9 429.8,1501.8 431.5,1500.2 431.7,1499 432.2,1498.9 432.9,1496.8 433.4,1498.4 434.3,1499.3 435.5,1499.5 436.1,1501.2 436.6,1503.6 437.1,1504.1 438.9,1504.3 440.8,1504 442,1505.4 442.6,1506.4 443,1508.7 443.8,1509.4 443.7,1509.7 444.4,1510.9 444.7,1513.8 445.4,1514 445.9,1513.6 447.1,1511.5 448,1509.7 449.1,1508.8 450,1507.9 451,1507.3 452.1,1509.4 452.3,1509.9 453.5,1510.3 453.2,1511.2 454,1513.3 455,1514 455.5,1514.8 456.7,1515.7 457.4,1517.7 457.6,1519.3 458.2,1520.6 459.5,1520.9 459.7,1522 460.9,1522.1 461.9,1520.7 463.1,1520.1 463.9,1519.3 464.6,1517.2 465.7,1517.8 467.5,1517.5 468.5,1517.4 470,1518.5 471.9,1518.4 472.7,1519.8 473.8,1520.2 475.1,1518.3 476.9,1519.6 477.1,1517.9 478.2,1517.8 478.4,1515.4 478.5,1513.6 479.3,1512.6 479.3,1511.5 480.3,1511 481.3,1509.5 483.5,1508.2 484.2,1508.3 484.3,1506.3 484.8,1505.4 485.3,1503.9 485.8,1502.3 486.6,1501.2 486.8,1500.8 486.9,1498 487.9,1497.5 489.1,1498.4 489.9,1498.9 490.4,1501.6 491,1502.5 492,1503 493,1503.8 494.4,1504.9 494.7,1506.5 495.4,1508 496.5,1508.3 497.3,1507.3 497.8,1507 499,1505.5 499,1503.4 499.7,1501.3 499.9,1502.3 501,1500 501.4,1499.8 502.8,1498.6 503,1496.1 504.6,1494.2 504.6,1493.8 505.9,1493 506.9,1492.9 508.8,1493.4 510,1495 511,1494.1 510.4,1493.3 511.1,1491.1 511.9,1489 512.3,1487.5 512.4,1488.2 513.6,1486 513.8,1485.5 513.7,1483.4 514.1,1481.2 515,1480.8 515.7,1481.3 517.4,1483.2 517.1,1481.3 517.7,1480.9 518.4,1480.2 518.5,1478 518.9,1476 518.2,1476.2 519,1473.5 518.9,1472.4 519.2,1471.4 519.3,1470.9 520,1469.1 519.8,1467.2 520.4,1467.5 520,1465.5 520.7,1464.1 520.1,1462.6 520.6,1460.5 521.1,1459.9 521.8,1461.6 522.5,1463.2 523.2,1463.9 523,1465.9 524.6,1467.4 524.8,1468 526.1,1468 526.9,1469.2 528.6,1471.3 529.7,1472.2 530.6,1472.6 532.7,1471.9 533.3,1469.8 534.6,1469.7 534.8,1471.7 536,1471.6 536.8,1473.5 536.8,1474.4 537.7,1475.7 538,1477 538.8,1477.4 539.4,1479 540.2,1480.1 540.1,1482.1 540.7,1483.3 541.9,1483.8 542,1485.7 542.9,1487.4 543.6,1488 543.8,1489 544.4,1490 544.7,1491.7 545.7,1493 547.2,1492.3 549.4,1491.8 550,1492.6 550.1,1494.5 551.5,1494.9 551.8,1497.1 552.6,1498.4 552.5,1498.5 553.7,1500 553.3,1502.5 554,1502.5 554.7,1503.6 555.5,1505.4 556.3,1506.3 556.6,1507.7 557.6,1508.1 557.9,1509.6 558,1512 559,1513 559.4,1513.4 560.2,1516.7 560.8,1517.1 561.6,1519.4 561.4,1519.4 562.9,1522.2 562.9,1522.6 563.5,1522.1 565.2,1521 565.9,1519.9 566.6,1518.9 567.1,1519.5 567.6,1521.7 568.5,1522.9 569.5,1523.7 571,1524.8 571.1,1526 571.6,1526.8 572.7,1528.7 573.5,1530.7 573.8,1532.2 575.2,1531.3 576,1533.4 576.6,1533.9 577.4,1536.1 578.4,1537.5 578.9,1538.5 580.2,1538 580.6,1535.4 581.9,1534.6 582.6,1534 584,1533.7 585,1532.4 585.8,1532.2 585.9,1530.1 586.5,1529.1 587.6,1526.7 588.2,1526.6 589,1526.1 589.6,1523.5 590.4,1522.6 592.5,1522.4 593.2,1522.4 595.3,1521.3 595.5,1523.6 596.2,1524.5 596.9,1525.1 597.4,1525.2 597,1528.3 597,1529.2 598,1530 599.1,1531.9 599.4,1531.9 599.5,1534.5 599.9,1535.5 600.8,1536.3 601,1538.5 600.9,1537.5 602.5,1536.8 602.6,1534.3 603.3,1532.5 603,1533 604.2,1530.9 604.2,1529.9 605.1,1527.7 605.2,1526.3 605.2,1525.2 605.4,1524.4 606.5,1522.8 607.1,1520.9 607.4,1520.7 607.7,1520.3 607.8,1517.8 608.7,1516.4 609.7,1515.5 609.6,1514 610.7,1512.9 611.7,1513 613.2,1511.3 613.5,1510.2 615,1509 615.3,1509.9 615.9,1511.9 617.7,1513 618,1513.4 618.6,1515.1 619.4,1516.4 619.9,1514.6 620.3,1514.5 621.7,1513.4 621.9,1510.4 622.2,1511 623,1509 624.3,1507.8 624.6,1506.8 625,1505.5 625.9,1504.5 626.8,1502.4 627.5,1501.6 628.4,1500.1 629.1,1499.9 630.2,1497.5 630.7,1497.4 631.7,1495.7 632.8,1493.3 633,1493 634.1,1492 634.9,1491.6 636.5,1489 637,1488 638,1487.4 638.9,1485.3 639.8,1484.1 640.3,1483.2 640.7,1484.8 642.1,1485.4 642.7,1488 643.5,1488.1 644.9,1489.1 646.1,1490.7 646.5,1492.1 647.7,1493 648.3,1492.6 648.5,1490.8 648.4,1488 648.8,1486.9 649.6,1486.2 649.5,1485.7 649.3,1484.6 649.7,1481.6 650.3,1481 651,1479.8 650.3,1477.5 650.5,1477.3 651.6,1475 651.4,1474.7 651.9,1473.4 652.8,1473.2 653.2,1471.3 653.3,1469.1 653.8,1467.7 653.8,1468 654.6,1466.5 654.9,1464.3 655.4,1463.7 655.8,1462.3 656.8,1463.2 659,1461.8 659.5,1463.4 661.3,1462.2 662.4,1463 662.9,1461.1 663.7,1460.5 663.7,1458.2 664,1457.6 664.3,1455.6 664.9,1455 665.5,1456.7 667.3,1458.2 668,1459.3 668.4,1459.1 669.8,1461 671.3,1459.3 671.8,1460.4 673.2,1458.5 674.6,1459.4 676,1458 676.9,1458.3 678.8,1457 680.5,1455.4 682,1455.7 683.1,1456.3 683.4,1459.2 683.6,1460.7 683.7,1460.1 684.7,1461.2 685.6,1463.6 685.8,1464.8 687.4,1463.4 687.9,1463.8 689.4,1461.8 691,1461 691.5,1462.4 692.9,1462.8 693.3,1464.4 694.8,1466 696.1,1464.1 696.4,1464.1 697.9,1463.5 698.9,1462.5 699.7,1460.6 700.6,1462.3 701.7,1461.2 703,1463.5 704.7,1463.6 705.2,1465.9 706.2,1467.4 706.2,1467.4 707.1,1469.6 706.7,1470.6 706.9,1470.7 708.1,1473.7 708.4,1474.6 709.4,1476.4 709.1,1477.6 710.6,1478.7 710.6,1479.1 710.6,1481.1 712.2,1481.1 712.6,1484.1 712.6,1485.3 713.3,1485.7 714.4,1485.5 716.3,1487.1 717.7,1485.5 719.6,1486.8 720.6,1486.9 721.8,1487.5 722.1,1488.4 722.7,1490.5 723.8,1492.2 725.2,1492.7 725.6,1494.3 726.8,1495.8 726.9,1495.8 728.3,1498 728,1499.2 729.1,1499.7 730.3,1500.3 730.4,1502.2 731.9,1502.2 732.6,1504.8 732.9,1505.4 733.8,1506.7 735.5,1507.7 736.6,1507.7 737.8,1509 739.5,1508.8 741.1,1509.7 742.8,1510.3 743,1510.9 744,1512.5 744.9,1514.5 745.2,1515.3 746,1515.8 746.5,1518.7 748,1519.6 747.8,1519.3 748.9,1521.3 749.7,1521.3 751.3,1521.2 752.5,1523.2 754.2,1522.6 755,1523.8 754.9,1525.7 755.8,1525.8 756,1526.9 756.6,1528.1 757,1530 758.1,1530.7 758.1,1532.3 758.7,1533.6 760.1,1535.2 761.3,1534.9 762.2,1536.2 762.9,1537.8 764,1538.4 764.9,1539.8 765.2,1539.9 767,1543.1 767.3,1542.5 768.6,1544.6 768.9,1546.1 769.8,1547 770.1,1545.2 771.6,1545.1 772.6,1543.2 773.3,1543.1 773.5,1541 774.9,1542.2 775.9,1540.5 778,1540.9 779,1542 780.4,1542.5 781.9,1541.2 783.4,1540.8 784.5,1542.7 785.8,1541.7 786.4,1539.9 787.5,1539.6 787.8,1538.7 788.5,1536.7 788.9,1535.2 788.8,1533.4 789.3,1531.5 790.3,1531.1 790.7,1530 791.8,1527.7 792.2,1526.8 792.3,1525.8 793.7,1525.4 793.7,1523.1 793.8,1522.3 795.5,1521.2 795.8,1521 795.7,1518.5 796.7,1517 797.3,1516.9 798,1515.2 798.3,1514.4 799.3,1513.1 799.9,1512.2 800.9,1511 802.3,1509.2 802.5,1507.8 802.6,1508.6 804.4,1510.4 804.9,1511.2 805.8,1513.3 806.1,1513.8 806.7,1514.7 806.8,1512.4 807.5,1512.8 808.8,1511.8 809.4,1508.9 808.9,1508.2 809.5,1507.8 811.1,1507.3 810.7,1505.6 811.9,1504.4 812.1,1502.3 812.8,1501.7 813.8,1501.4 814.1,1499.3 813.8,1497.5 814.6,1496.2 815.1,1495.9 816.2,1493.6 817,1492 817.6,1492.1 817.7,1490.1 818.3,1490.3 818.3,1487.3 819.5,1486.4 819.2,1485.7 820.2,1484.5 821.4,1484.1 823,1484.1 825.1,1485.6 826.3,1485.7 826.7,1483.7 827.1,1483.8 827.7,1480.2 827.1,1478.8 827.6,1478.3 828.2,1479.9 829,1480.4 830,1482.3 830.7,1483 830.9,1483.5 831.4,1486 832,1486.9 831.9,1485.8 832.1,1484 832.9,1482.6 832.6,1480.5 833.1,1480.2 833.4,1477.7 833.7,1477 834.7,1475.9 835.7,1475.8 837.4,1474.5 838,1475.2 839.3,1472.7 840.8,1473.6 842.3,1472.2 843.2,1471.4 842.8,1470.1 843,1467 843.5,1466.6 844.5,1465.3 844.8,1463.6 847.2,1464.8 848.5,1464.8 849.2,1462.8 849.8,1463.2 850.1,1460 850.4,1459.7 850.6,1457.8 851.2,1457.7 851.6,1455.3 852,1453.5 852.4,1452.1 852,1450.9 853.1,1451.7 853.3,1449.6 853.9,1448.8 854.7,1447.4 854.4,1444.4 855.4,1443.6 855.7,1443.6 855.8,1441.5 856.7,1442 858.2,1444.6 859.5,1445 861,1445.1 861.4,1443.2 863.1,1441.6 863.8,1440.3 865.2,1439.7 865.8,1439.2 866.9,1437.8 868.2,1438.8 869.8,1438.1 871.6,1438.9 873.1,1439.6 874.3,1439 876.3,1438.8 877.7,1439.8 879.2,1439 879.1,1438 880,1436.1 880,1434.5 881.1,1434.6 881.8,1432.9 882,1431.8 881.6,1430.1 882.8,1428.9 882.5,1427.5 883.1,1425.5 883.9,1424.7 884,1423 884.3,1422.1 884.9,1419.9 886.4,1420.3 886.5,1418.7 887.1,1416.9 888,1414.7 888.7,1414.6 889.9,1412.3 890.2,1412 890.6,1409.6 891.2,1409 892.6,1409.3 892.6,1407 893.6,1405.8 894.8,1405.6 894.4,1403.1 895.6,1402.5 896.3,1401.6 896.5,1399.5 897.6,1398.4 899.5,1397.3 900.3,1398.1 901.8,1397.6 903.8,1397.2 904,1397.7 904.8,1400.3 905.7,1401 906.2,1402 907,1400.4 908,1399.6 908.2,1397 908.7,1396.7" fill="none" stroke="#bf6624" stroke-width="3.9" stroke-linejoin="round" stroke-linecap="round" clip-path="url(#pb)"/>
<rect x="205.3" y="918" width="731.2" height="474" fill="none" stroke="#8a8f80" stroke-width="1"/>
<line x1="205.3" y1="1391.8" x2="936.5" y2="1391.8" stroke="#1a1a1a" stroke-width="1.6"/>
<line x1="213.6" y1="1392.4" x2="213.6" y2="1394" stroke="#1a1a1a" stroke-width="0.9"/>
<line x1="232.1" y1="1392.4" x2="232.1" y2="1394" stroke="#1a1a1a" stroke-width="0.9"/>
<line x1="250.6" y1="1392.4" x2="250.6" y2="1394" stroke="#1a1a1a" stroke-width="0.9"/>
<line x1="269.1" y1="1392.4" x2="269.1" y2="1394" stroke="#1a1a1a" stroke-width="0.9"/>
<line x1="287.6" y1="1392.4" x2="287.6" y2="1394" stroke="#1a1a1a" stroke-width="0.9"/>
<line x1="306.2" y1="1392.4" x2="306.2" y2="1394" stroke="#1a1a1a" stroke-width="0.9"/>
<line x1="324.7" y1="1392.4" x2="324.7" y2="1394" stroke="#1a1a1a" stroke-width="0.9"/>
<line x1="343.2" y1="1392.4" x2="343.2" y2="1394" stroke="#1a1a1a" stroke-width="0.9"/>
<line x1="361.7" y1="1392.4" x2="361.7" y2="1394" stroke="#1a1a1a" stroke-width="0.9"/>
<line x1="380.2" y1="1392.4" x2="380.2" y2="1394" stroke="#1a1a1a" stroke-width="0.9"/>
<line x1="398.8" y1="1392.4" x2="398.8" y2="1394" stroke="#1a1a1a" stroke-width="0.9"/>
<line x1="417.3" y1="1392.4" x2="417.3" y2="1394" stroke="#1a1a1a" stroke-width="0.9"/>
<line x1="435.8" y1="1392.4" x2="435.8" y2="1394" stroke="#1a1a1a" stroke-width="0.9"/>
<line x1="454.3" y1="1392.4" x2="454.3" y2="1394" stroke="#1a1a1a" stroke-width="0.9"/>
<line x1="472.8" y1="1392.4" x2="472.8" y2="1394" stroke="#1a1a1a" stroke-width="0.9"/>
<line x1="491.4" y1="1392.4" x2="491.4" y2="1394" stroke="#1a1a1a" stroke-width="0.9"/>
<line x1="509.9" y1="1392.4" x2="509.9" y2="1394" stroke="#1a1a1a" stroke-width="0.9"/>
<line x1="528.4" y1="1392.4" x2="528.4" y2="1394" stroke="#1a1a1a" stroke-width="0.9"/>
<line x1="546.9" y1="1392.4" x2="546.9" y2="1394" stroke="#1a1a1a" stroke-width="0.9"/>
<line x1="565.4" y1="1392.4" x2="565.4" y2="1394" stroke="#1a1a1a" stroke-width="0.9"/>
<line x1="584" y1="1392.4" x2="584" y2="1394" stroke="#1a1a1a" stroke-width="0.9"/>
<line x1="602.5" y1="1392.4" x2="602.5" y2="1394" stroke="#1a1a1a" stroke-width="0.9"/>
<line x1="621" y1="1392.4" x2="621" y2="1394" stroke="#1a1a1a" stroke-width="0.9"/>
<line x1="639.5" y1="1392.4" x2="639.5" y2="1394" stroke="#1a1a1a" stroke-width="0.9"/>
<line x1="658" y1="1392.4" x2="658" y2="1394" stroke="#1a1a1a" stroke-width="0.9"/>
<line x1="676.6" y1="1392.4" x2="676.6" y2="1394" stroke="#1a1a1a" stroke-width="0.9"/>
<line x1="695.1" y1="1392.4" x2="695.1" y2="1394" stroke="#1a1a1a" stroke-width="0.9"/>
<line x1="713.6" y1="1392.4" x2="713.6" y2="1394" stroke="#1a1a1a" stroke-width="0.9"/>
<line x1="732.1" y1="1392.4" x2="732.1" y2="1394" stroke="#1a1a1a" stroke-width="0.9"/>
<line x1="750.6" y1="1392.4" x2="750.6" y2="1394" stroke="#1a1a1a" stroke-width="0.9"/>
<line x1="769.2" y1="1392.4" x2="769.2" y2="1394" stroke="#1a1a1a" stroke-width="0.9"/>
<line x1="787.7" y1="1392.4" x2="787.7" y2="1394" stroke="#1a1a1a" stroke-width="0.9"/>
<line x1="806.2" y1="1392.4" x2="806.2" y2="1394" stroke="#1a1a1a" stroke-width="0.9"/>
<line x1="824.7" y1="1392.4" x2="824.7" y2="1394" stroke="#1a1a1a" stroke-width="0.9"/>
<line x1="843.2" y1="1392.4" x2="843.2" y2="1394" stroke="#1a1a1a" stroke-width="0.9"/>
<line x1="861.8" y1="1392.4" x2="861.8" y2="1394" stroke="#1a1a1a" stroke-width="0.9"/>
<line x1="880.3" y1="1392.4" x2="880.3" y2="1394" stroke="#1a1a1a" stroke-width="0.9"/>
<line x1="898.8" y1="1392.4" x2="898.8" y2="1394" stroke="#1a1a1a" stroke-width="0.9"/>
<line x1="917.3" y1="1392.4" x2="917.3" y2="1394" stroke="#1a1a1a" stroke-width="0.9"/>
<line x1="935.8" y1="1392.4" x2="935.8" y2="1394" stroke="#1a1a1a" stroke-width="0.9"/>
<line x1="205.3" y1="1095.3" x2="936.5" y2="1095.3" stroke="#d8ecc0" stroke-width="0.8" stroke-dasharray="6 5" opacity="0.55"/>
<line x1="220.2" y1="1095.3" x2="926.5" y2="1095.9" stroke="#222" stroke-width="1"/>
<line x1="220.2" y1="1095.3" x2="926.5" y2="1095.9" stroke="#fff" stroke-width="1" stroke-dasharray="5.5 28.84" stroke-dashoffset="-24"/>
<line x1="248" y1="1095.3" x2="877.8" y2="1096.1" stroke="#d71f27" stroke-width="5.4" stroke-dasharray="11 6.17"/>
<line x1="883.3" y1="1096.1" x2="884.3" y2="1096.1" stroke="#d71f27" stroke-width="5"/>
<path d="M240.1 1097.5 L240.1 1213.1 A153 114.5 0 0 0 393.1 1327.6 L746.4 1327.6 A153 114.5 0 0 0 899.4 1213.1 L899.4 1097.5" fill="none" stroke="#d71f27" stroke-width="3.6"/>
<line x1="570.5" y1="1327.6" x2="570.5" y2="1442.8" stroke="#d71f27" stroke-width="3.8"/>
<path d="M570.5 1464.8 L557.9 1436.1 Q566.5 1440.3 570.5 1440.8 Q574.5 1440.3 583.1 1436.1 Z" fill="#d71f27"/>
<rect x="218" y="1093.1" width="4.4" height="4.4" fill="#f5e616" stroke="#111" stroke-width="1"/>
<rect x="924.3" y="1093.1" width="4.4" height="4.4" fill="#f5e616" stroke="#111" stroke-width="1"/>
<text x="346.4" y="1649.2" text-anchor="middle" class="t">200</text>
<text x="532.3" y="1649.2" text-anchor="middle" class="t">400</text>
<text x="715.7" y="1649.2" text-anchor="middle" class="t">600</text>
<text x="894" y="1649.2" text-anchor="middle" class="t">800</text>
<text x="583.4" y="1676.3" text-anchor="middle" class="tx">x (nm)</text>
<text x="979" y="1436" text-anchor="end" class="t">10</text>
<text x="978" y="1519.4" text-anchor="end" class="t">0</text>
<text x="987.5" y="1596" text-anchor="end" class="t">-10</text>
<text transform="translate(1012.5,1510.5) rotate(-90)" text-anchor="middle" class="tz">z (nm)</text>
</g>
</svg></body></html>
